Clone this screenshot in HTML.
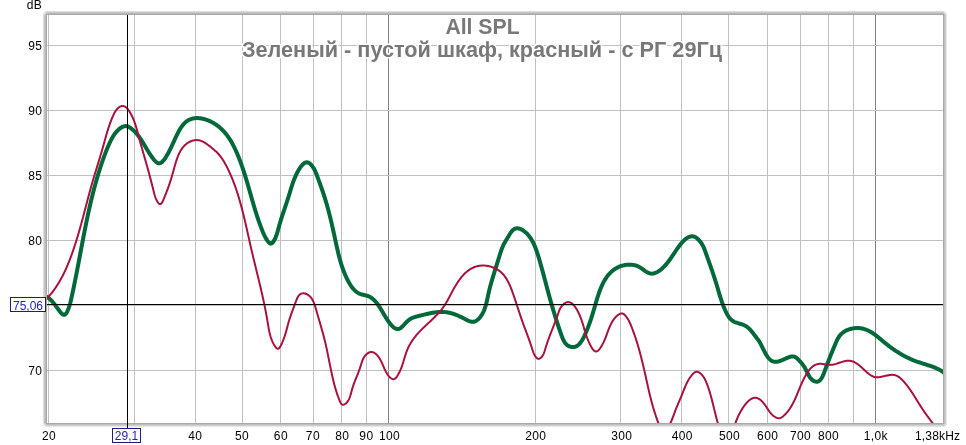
<!DOCTYPE html>
<html><head><meta charset="utf-8"><style>
html,body{margin:0;padding:0;background:#fff;}
body{width:966px;height:445px;overflow:hidden;}
svg{display:block;will-change:transform;font-family:"Liberation Sans", sans-serif;}
</style></head><body>
<svg width="966" height="445" viewBox="0 0 966 445">
<defs><clipPath id="pc"><rect x="47" y="15" width="896" height="408"/></clipPath></defs>
<rect x="48" y="15" width="1" height="408" fill="#c0c0c0"/>
<rect x="134" y="15" width="1" height="408" fill="#c0c0c0"/>
<rect x="195" y="15" width="1" height="408" fill="#c0c0c0"/>
<rect x="242" y="15" width="1" height="408" fill="#c0c0c0"/>
<rect x="280" y="15" width="1" height="408" fill="#c0c0c0"/>
<rect x="313" y="15" width="1" height="408" fill="#c0c0c0"/>
<rect x="341" y="15" width="1" height="408" fill="#c0c0c0"/>
<rect x="366" y="15" width="1" height="408" fill="#c0c0c0"/>
<rect x="388" y="15" width="1" height="408" fill="#808080"/>
<rect x="535" y="15" width="1" height="408" fill="#c0c0c0"/>
<rect x="620" y="15" width="1" height="408" fill="#c0c0c0"/>
<rect x="681" y="15" width="1" height="408" fill="#c0c0c0"/>
<rect x="728" y="15" width="1" height="408" fill="#c0c0c0"/>
<rect x="767" y="15" width="1" height="408" fill="#c0c0c0"/>
<rect x="800" y="15" width="1" height="408" fill="#c0c0c0"/>
<rect x="828" y="15" width="1" height="408" fill="#c0c0c0"/>
<rect x="853" y="15" width="1" height="408" fill="#c0c0c0"/>
<rect x="875" y="15" width="1" height="408" fill="#808080"/>
<rect x="47" y="45" width="896" height="1" fill="#c0c0c0"/>
<rect x="47" y="110" width="896" height="1" fill="#c0c0c0"/>
<rect x="47" y="175" width="896" height="1" fill="#c0c0c0"/>
<rect x="47" y="240" width="896" height="1" fill="#c0c0c0"/>
<rect x="47" y="305" width="896" height="1" fill="#c0c0c0"/>
<rect x="47" y="370" width="896" height="1" fill="#c0c0c0"/>
<g clip-path="url(#pc)">
<path d="M46.94,296.87 L47.54,297.28 L48.13,297.70 L48.69,298.13 L49.24,298.57 L49.77,299.03 L50.28,299.49 L50.78,299.97 L51.27,300.45 L51.75,300.95 L52.21,301.45 L52.67,301.97 L53.11,302.49 L53.55,303.02 L53.99,303.56 L54.42,304.11 L54.84,304.67 L55.27,305.23 L55.69,305.80 L56.12,306.38 L56.54,306.97 L56.97,307.56 L57.40,308.16 L57.84,308.77 L58.28,309.38 L58.73,310.00 L59.19,310.63 L59.66,311.25 L60.13,311.85 L60.60,312.43 L61.08,312.97 L61.57,313.46 L62.05,313.89 L62.53,314.25 L63.00,314.53 L63.47,314.72 L63.94,314.80 L64.40,314.76 L64.85,314.60 L65.28,314.31 L65.71,313.91 L66.12,313.40 L66.53,312.81 L66.91,312.14 L67.29,311.41 L67.64,310.64 L67.99,309.83 L68.31,309.01 L68.62,308.18 L68.90,307.37 L69.17,306.57 L69.42,305.81 L69.66,305.06 L69.87,304.33 L70.08,303.62 L70.27,302.92 L70.45,302.24 L70.62,301.57 L70.78,300.91 L70.94,300.26 L71.09,299.61 L71.24,298.96 L71.38,298.31 L71.52,297.67 L71.67,297.02 L71.81,296.36 L71.95,295.71 L72.09,295.05 L72.24,294.39 L72.38,293.73 L72.52,293.06 L72.66,292.39 L72.81,291.72 L72.95,291.05 L73.09,290.38 L73.23,289.70 L73.37,289.03 L73.52,288.35 L73.66,287.67 L73.80,286.99 L73.94,286.30 L74.08,285.62 L74.22,284.93 L74.36,284.25 L74.50,283.56 L74.64,282.87 L74.78,282.18 L74.92,281.49 L75.06,280.80 L75.20,280.11 L75.33,279.42 L75.47,278.73 L75.61,278.04 L75.75,277.34 L75.88,276.65 L76.02,275.96 L76.16,275.27 L76.29,274.57 L76.43,273.88 L76.56,273.19 L76.70,272.50 L76.83,271.81 L76.97,271.11 L77.10,270.42 L77.23,269.73 L77.37,269.04 L77.50,268.35 L77.63,267.66 L77.76,266.96 L77.90,266.27 L78.03,265.58 L78.16,264.89 L78.29,264.20 L78.42,263.51 L78.55,262.82 L78.68,262.13 L78.81,261.44 L78.94,260.75 L79.08,260.06 L79.21,259.37 L79.34,258.68 L79.47,257.99 L79.60,257.30 L79.73,256.61 L79.85,255.92 L79.98,255.23 L80.11,254.54 L80.24,253.85 L80.37,253.16 L80.50,252.47 L80.63,251.78 L80.76,251.09 L80.89,250.40 L81.02,249.71 L81.15,249.02 L81.28,248.34 L81.41,247.65 L81.54,246.96 L81.67,246.27 L81.80,245.58 L81.93,244.90 L82.06,244.21 L82.19,243.52 L82.32,242.83 L82.45,242.14 L82.58,241.46 L82.71,240.77 L82.84,240.08 L82.98,239.40 L83.11,238.71 L83.24,238.02 L83.37,237.34 L83.50,236.65 L83.64,235.96 L83.77,235.28 L83.90,234.59 L84.03,233.90 L84.17,233.22 L84.30,232.53 L84.44,231.85 L84.57,231.16 L84.71,230.48 L84.84,229.79 L84.98,229.11 L85.11,228.42 L85.25,227.74 L85.39,227.05 L85.52,226.37 L85.66,225.68 L85.80,225.00 L85.94,224.31 L86.08,223.63 L86.22,222.95 L86.36,222.26 L86.50,221.58 L86.64,220.89 L86.78,220.21 L86.92,219.53 L87.06,218.85 L87.21,218.16 L87.35,217.48 L87.50,216.80 L87.64,216.11 L87.79,215.43 L87.93,214.75 L88.08,214.07 L88.23,213.39 L88.37,212.70 L88.52,212.02 L88.67,211.34 L88.82,210.66 L88.97,209.98 L89.12,209.30 L89.28,208.62 L89.43,207.94 L89.58,207.26 L89.74,206.58 L89.89,205.90 L90.05,205.22 L90.20,204.54 L90.36,203.86 L90.52,203.18 L90.68,202.50 L90.84,201.82 L91.00,201.14 L91.16,200.46 L91.32,199.78 L91.49,199.10 L91.65,198.42 L91.81,197.75 L91.98,197.07 L92.15,196.39 L92.31,195.71 L92.48,195.03 L92.65,194.36 L92.82,193.68 L93.00,193.00 L93.17,192.33 L93.34,191.65 L93.52,190.97 L93.69,190.30 L93.87,189.62 L94.05,188.94 L94.22,188.27 L94.40,187.59 L94.58,186.92 L94.77,186.24 L94.95,185.57 L95.13,184.89 L95.32,184.22 L95.51,183.54 L95.69,182.87 L95.88,182.19 L96.07,181.52 L96.26,180.84 L96.45,180.17 L96.65,179.50 L96.84,178.82 L97.04,178.15 L97.23,177.48 L97.43,176.80 L97.63,176.13 L97.83,175.46 L98.04,174.79 L98.24,174.12 L98.44,173.44 L98.65,172.77 L98.86,172.10 L99.07,171.43 L99.28,170.76 L99.49,170.09 L99.70,169.42 L99.91,168.75 L100.13,168.08 L100.35,167.41 L100.56,166.74 L100.78,166.07 L101.01,165.40 L101.23,164.73 L101.45,164.06 L101.68,163.39 L101.90,162.72 L102.13,162.05 L102.36,161.38 L102.60,160.72 L102.83,160.05 L103.06,159.38 L103.30,158.72 L103.54,158.05 L103.78,157.39 L104.02,156.72 L104.26,156.06 L104.51,155.40 L104.76,154.74 L105.01,154.08 L105.26,153.42 L105.51,152.77 L105.77,152.11 L106.02,151.46 L106.28,150.80 L106.54,150.15 L106.81,149.51 L107.07,148.86 L107.34,148.21 L107.61,147.57 L107.88,146.93 L108.16,146.29 L108.43,145.65 L108.71,145.02 L109.00,144.38 L109.28,143.75 L109.57,143.12 L109.85,142.50 L110.15,141.87 L110.44,141.25 L110.74,140.64 L111.05,140.02 L111.36,139.41 L111.67,138.81 L112.00,138.20 L112.33,137.60 L112.67,137.01 L113.03,136.42 L113.39,135.84 L113.76,135.26 L114.15,134.69 L114.55,134.12 L114.97,133.56 L115.40,133.00 L115.84,132.45 L116.31,131.91 L116.79,131.38 L117.29,130.85 L117.80,130.33 L118.34,129.82 L118.90,129.32 L119.48,128.83 L120.07,128.37 L120.67,127.93 L121.29,127.52 L121.91,127.16 L122.55,126.84 L123.18,126.57 L123.83,126.36 L124.47,126.21 L125.11,126.12 L125.75,126.11 L126.39,126.17 L127.02,126.30 L127.64,126.48 L128.26,126.72 L128.87,127.01 L129.48,127.34 L130.08,127.70 L130.67,128.10 L131.25,128.52 L131.82,128.97 L132.37,129.43 L132.92,129.90 L133.46,130.38 L133.98,130.88 L134.50,131.39 L135.00,131.90 L135.50,132.42 L135.99,132.96 L136.46,133.50 L136.93,134.05 L137.39,134.60 L137.84,135.16 L138.28,135.73 L138.71,136.30 L139.14,136.88 L139.56,137.46 L139.97,138.04 L140.37,138.62 L140.77,139.21 L141.16,139.80 L141.54,140.39 L141.92,140.98 L142.29,141.57 L142.66,142.15 L143.02,142.74 L143.37,143.32 L143.72,143.91 L144.07,144.48 L144.41,145.06 L144.75,145.63 L145.09,146.21 L145.43,146.78 L145.76,147.35 L146.10,147.92 L146.44,148.49 L146.78,149.07 L147.13,149.64 L147.47,150.22 L147.83,150.80 L148.19,151.38 L148.55,151.97 L148.92,152.56 L149.30,153.16 L149.69,153.76 L150.09,154.37 L150.50,154.99 L150.92,155.61 L151.35,156.24 L151.80,156.88 L152.26,157.52 L152.73,158.17 L153.22,158.82 L153.71,159.45 L154.22,160.05 L154.73,160.63 L155.25,161.18 L155.77,161.68 L156.30,162.12 L156.83,162.51 L157.37,162.82 L157.90,163.06 L158.43,163.22 L158.96,163.28 L159.49,163.25 L160.02,163.14 L160.54,162.94 L161.05,162.67 L161.56,162.33 L162.07,161.93 L162.56,161.47 L163.05,160.96 L163.54,160.41 L164.01,159.82 L164.48,159.19 L164.94,158.54 L165.38,157.87 L165.82,157.19 L166.25,156.49 L166.66,155.80 L167.06,155.10 L167.45,154.42 L167.83,153.75 L168.19,153.09 L168.54,152.44 L168.89,151.79 L169.22,151.16 L169.54,150.54 L169.86,149.92 L170.17,149.31 L170.47,148.70 L170.76,148.10 L171.05,147.51 L171.33,146.92 L171.61,146.33 L171.88,145.74 L172.15,145.16 L172.42,144.58 L172.69,144.00 L172.95,143.41 L173.22,142.83 L173.48,142.25 L173.75,141.66 L174.02,141.08 L174.28,140.48 L174.56,139.89 L174.83,139.29 L175.11,138.68 L175.40,138.07 L175.69,137.45 L175.99,136.83 L176.29,136.19 L176.60,135.55 L176.92,134.90 L177.25,134.24 L177.59,133.57 L177.93,132.89 L178.29,132.22 L178.65,131.54 L179.02,130.86 L179.41,130.18 L179.80,129.51 L180.20,128.84 L180.62,128.18 L181.04,127.53 L181.47,126.89 L181.92,126.27 L182.37,125.65 L182.84,125.06 L183.31,124.48 L183.80,123.92 L184.30,123.39 L184.81,122.88 L185.33,122.39 L185.86,121.93 L186.41,121.50 L186.97,121.10 L187.53,120.72 L188.11,120.38 L188.70,120.06 L189.29,119.76 L189.90,119.49 L190.51,119.25 L191.14,119.03 L191.76,118.83 L192.40,118.66 L193.04,118.51 L193.69,118.39 L194.35,118.29 L195.01,118.21 L195.67,118.15 L196.34,118.11 L197.02,118.09 L197.69,118.10 L198.37,118.12 L199.06,118.17 L199.74,118.23 L200.43,118.31 L201.11,118.41 L201.80,118.53 L202.49,118.67 L203.18,118.82 L203.87,118.99 L204.55,119.17 L205.24,119.38 L205.92,119.59 L206.60,119.82 L207.28,120.07 L207.95,120.33 L208.62,120.60 L209.29,120.88 L209.95,121.18 L210.60,121.49 L211.25,121.81 L211.90,122.15 L212.53,122.49 L213.16,122.85 L213.79,123.21 L214.40,123.58 L215.01,123.97 L215.61,124.36 L216.19,124.76 L216.77,125.17 L217.34,125.58 L217.91,126.01 L218.46,126.44 L219.00,126.88 L219.54,127.32 L220.07,127.78 L220.59,128.24 L221.10,128.71 L221.61,129.18 L222.10,129.67 L222.59,130.16 L223.07,130.65 L223.55,131.16 L224.01,131.67 L224.47,132.18 L224.93,132.70 L225.37,133.23 L225.81,133.76 L226.24,134.30 L226.67,134.85 L227.09,135.40 L227.50,135.95 L227.90,136.51 L228.30,137.08 L228.70,137.65 L229.09,138.22 L229.47,138.80 L229.84,139.39 L230.22,139.97 L230.58,140.57 L230.94,141.16 L231.30,141.76 L231.65,142.37 L231.99,142.98 L232.33,143.59 L232.67,144.20 L233.00,144.82 L233.32,145.45 L233.64,146.07 L233.96,146.70 L234.28,147.33 L234.59,147.96 L234.89,148.60 L235.19,149.24 L235.49,149.88 L235.78,150.52 L236.07,151.16 L236.36,151.81 L236.65,152.46 L236.93,153.11 L237.21,153.76 L237.48,154.41 L237.75,155.06 L238.02,155.72 L238.29,156.37 L238.55,157.03 L238.82,157.69 L239.08,158.35 L239.33,159.01 L239.59,159.67 L239.84,160.33 L240.09,160.99 L240.34,161.65 L240.59,162.31 L240.83,162.97 L241.07,163.64 L241.31,164.30 L241.55,164.97 L241.79,165.63 L242.02,166.30 L242.25,166.96 L242.48,167.63 L242.71,168.30 L242.94,168.97 L243.16,169.63 L243.38,170.30 L243.61,170.97 L243.82,171.64 L244.04,172.31 L244.26,172.98 L244.47,173.65 L244.69,174.31 L244.90,174.98 L245.11,175.65 L245.32,176.32 L245.53,176.99 L245.73,177.66 L245.94,178.33 L246.14,179.00 L246.34,179.67 L246.55,180.34 L246.75,181.01 L246.94,181.68 L247.14,182.35 L247.34,183.01 L247.54,183.68 L247.73,184.35 L247.93,185.02 L248.12,185.68 L248.31,186.35 L248.50,187.02 L248.70,187.68 L248.89,188.35 L249.08,189.01 L249.27,189.68 L249.46,190.34 L249.64,191.01 L249.83,191.67 L250.02,192.34 L250.21,193.00 L250.40,193.66 L250.58,194.33 L250.77,194.99 L250.96,195.65 L251.15,196.32 L251.33,196.98 L251.52,197.64 L251.71,198.31 L251.90,198.97 L252.09,199.63 L252.28,200.30 L252.47,200.96 L252.66,201.62 L252.85,202.29 L253.04,202.95 L253.23,203.61 L253.43,204.28 L253.62,204.94 L253.82,205.60 L254.01,206.27 L254.21,206.93 L254.41,207.60 L254.61,208.26 L254.81,208.93 L255.01,209.60 L255.22,210.26 L255.42,210.93 L255.63,211.60 L255.84,212.26 L256.05,212.93 L256.26,213.60 L256.47,214.27 L256.69,214.94 L256.91,215.61 L257.13,216.28 L257.35,216.95 L257.57,217.63 L257.80,218.30 L258.02,218.97 L258.25,219.65 L258.48,220.32 L258.72,221.00 L258.96,221.67 L259.20,222.35 L259.44,223.03 L259.68,223.71 L259.93,224.39 L260.18,225.07 L260.43,225.75 L260.69,226.43 L260.95,227.11 L261.21,227.80 L261.47,228.48 L261.74,229.17 L262.01,229.86 L262.29,230.54 L262.56,231.23 L262.85,231.92 L263.13,232.60 L263.43,233.28 L263.73,233.96 L264.03,234.63 L264.35,235.30 L264.67,235.95 L264.99,236.60 L265.33,237.25 L265.68,237.88 L266.03,238.50 L266.40,239.11 L266.77,239.70 L267.16,240.29 L267.56,240.86 L267.97,241.41 L268.39,241.94 L268.83,242.46 L269.27,242.91 L269.73,243.29 L270.19,243.55 L270.65,243.67 L271.12,243.62 L271.58,243.43 L272.05,243.11 L272.50,242.69 L272.94,242.17 L273.37,241.58 L273.79,240.94 L274.19,240.26 L274.57,239.56 L274.92,238.86 L275.26,238.17 L275.57,237.47 L275.86,236.77 L276.14,236.08 L276.39,235.39 L276.64,234.69 L276.87,234.00 L277.09,233.31 L277.30,232.63 L277.50,231.94 L277.69,231.25 L277.88,230.57 L278.06,229.88 L278.24,229.20 L278.42,228.52 L278.60,227.83 L278.79,227.15 L278.97,226.47 L279.16,225.79 L279.35,225.11 L279.54,224.43 L279.74,223.76 L279.94,223.08 L280.14,222.40 L280.34,221.73 L280.55,221.05 L280.76,220.38 L280.96,219.70 L281.17,219.03 L281.39,218.35 L281.60,217.68 L281.82,217.01 L282.03,216.34 L282.25,215.67 L282.47,215.00 L282.69,214.33 L282.91,213.66 L283.14,212.99 L283.36,212.32 L283.58,211.66 L283.81,210.99 L284.03,210.32 L284.26,209.66 L284.48,208.99 L284.71,208.33 L284.93,207.66 L285.15,207.00 L285.38,206.33 L285.60,205.67 L285.83,205.01 L286.05,204.35 L286.27,203.68 L286.49,203.02 L286.71,202.36 L286.93,201.70 L287.15,201.04 L287.37,200.38 L287.59,199.72 L287.80,199.06 L288.01,198.40 L288.23,197.74 L288.44,197.08 L288.64,196.42 L288.85,195.76 L289.05,195.11 L289.25,194.45 L289.45,193.79 L289.65,193.13 L289.85,192.48 L290.05,191.82 L290.25,191.16 L290.44,190.51 L290.64,189.85 L290.84,189.19 L291.04,188.54 L291.24,187.88 L291.44,187.23 L291.65,186.57 L291.86,185.91 L292.07,185.26 L292.28,184.60 L292.50,183.95 L292.73,183.29 L292.95,182.63 L293.19,181.98 L293.42,181.32 L293.67,180.66 L293.92,180.01 L294.17,179.35 L294.43,178.69 L294.70,178.03 L294.98,177.38 L295.26,176.72 L295.56,176.06 L295.86,175.40 L296.17,174.74 L296.49,174.08 L296.81,173.42 L297.15,172.76 L297.50,172.10 L297.86,171.44 L298.23,170.78 L298.61,170.12 L299.01,169.46 L299.41,168.80 L299.83,168.14 L300.26,167.50 L300.70,166.87 L301.15,166.26 L301.61,165.68 L302.08,165.13 L302.56,164.61 L303.05,164.14 L303.55,163.71 L304.05,163.33 L304.57,163.00 L305.09,162.73 L305.62,162.53 L306.16,162.39 L306.70,162.33 L307.25,162.35 L307.81,162.46 L308.37,162.65 L308.94,162.93 L309.51,163.31 L310.08,163.78 L310.65,164.31 L311.20,164.90 L311.74,165.53 L312.25,166.18 L312.73,166.84 L313.18,167.49 L313.60,168.15 L313.99,168.80 L314.35,169.45 L314.69,170.09 L315.01,170.74 L315.31,171.38 L315.60,172.03 L315.87,172.67 L316.13,173.31 L316.37,173.96 L316.62,174.60 L316.86,175.24 L317.09,175.89 L317.33,176.53 L317.57,177.18 L317.80,177.82 L318.04,178.47 L318.28,179.12 L318.52,179.77 L318.76,180.42 L318.99,181.07 L319.23,181.72 L319.47,182.37 L319.71,183.02 L319.94,183.68 L320.18,184.33 L320.41,184.98 L320.65,185.64 L320.88,186.30 L321.12,186.95 L321.35,187.61 L321.58,188.27 L321.81,188.93 L322.04,189.59 L322.27,190.25 L322.50,190.91 L322.73,191.57 L322.95,192.23 L323.17,192.89 L323.40,193.56 L323.62,194.22 L323.84,194.89 L324.05,195.55 L324.27,196.22 L324.48,196.88 L324.69,197.55 L324.90,198.22 L325.11,198.89 L325.32,199.55 L325.52,200.22 L325.72,200.89 L325.92,201.56 L326.12,202.23 L326.32,202.90 L326.51,203.57 L326.71,204.25 L326.90,204.92 L327.09,205.59 L327.28,206.26 L327.47,206.94 L327.65,207.61 L327.84,208.29 L328.02,208.96 L328.20,209.64 L328.38,210.31 L328.56,210.99 L328.74,211.66 L328.92,212.34 L329.09,213.02 L329.27,213.70 L329.44,214.37 L329.61,215.05 L329.78,215.73 L329.95,216.41 L330.12,217.09 L330.28,217.77 L330.45,218.45 L330.62,219.13 L330.78,219.81 L330.94,220.49 L331.10,221.17 L331.27,221.85 L331.43,222.53 L331.59,223.22 L331.74,223.90 L331.90,224.58 L332.06,225.26 L332.22,225.95 L332.37,226.63 L332.53,227.31 L332.68,228.00 L332.84,228.68 L332.99,229.37 L333.14,230.05 L333.29,230.74 L333.45,231.42 L333.60,232.11 L333.75,232.79 L333.90,233.48 L334.05,234.16 L334.20,234.85 L334.35,235.53 L334.50,236.22 L334.65,236.91 L334.80,237.59 L334.95,238.28 L335.09,238.96 L335.24,239.65 L335.39,240.34 L335.54,241.02 L335.69,241.71 L335.84,242.40 L335.98,243.08 L336.13,243.77 L336.28,244.46 L336.43,245.14 L336.58,245.83 L336.73,246.52 L336.89,247.20 L337.04,247.89 L337.19,248.57 L337.35,249.26 L337.51,249.94 L337.67,250.63 L337.82,251.31 L337.99,251.99 L338.15,252.68 L338.31,253.36 L338.48,254.04 L338.65,254.72 L338.82,255.40 L338.99,256.08 L339.17,256.76 L339.34,257.44 L339.52,258.11 L339.71,258.79 L339.89,259.46 L340.08,260.14 L340.27,260.81 L340.46,261.49 L340.66,262.16 L340.86,262.83 L341.06,263.50 L341.27,264.16 L341.48,264.83 L341.69,265.50 L341.91,266.16 L342.13,266.82 L342.35,267.49 L342.58,268.15 L342.82,268.80 L343.05,269.46 L343.29,270.12 L343.54,270.77 L343.79,271.43 L344.04,272.08 L344.30,272.73 L344.57,273.37 L344.84,274.02 L345.11,274.67 L345.39,275.31 L345.67,275.95 L345.96,276.59 L346.26,277.23 L346.56,277.86 L346.86,278.49 L347.18,279.13 L347.49,279.76 L347.82,280.38 L348.15,281.01 L348.48,281.63 L348.82,282.25 L349.17,282.87 L349.53,283.49 L349.89,284.10 L350.26,284.70 L350.64,285.30 L351.03,285.88 L351.42,286.46 L351.83,287.03 L352.25,287.59 L352.68,288.14 L353.12,288.67 L353.57,289.19 L354.03,289.69 L354.51,290.17 L355.00,290.64 L355.51,291.09 L356.03,291.52 L356.56,291.93 L357.11,292.31 L357.68,292.67 L358.26,293.01 L358.86,293.33 L359.48,293.61 L360.11,293.87 L360.77,294.11 L361.43,294.32 L362.11,294.51 L362.80,294.69 L363.49,294.87 L364.19,295.04 L364.89,295.21 L365.59,295.38 L366.29,295.56 L366.98,295.76 L367.67,295.97 L368.34,296.21 L369.00,296.47 L369.65,296.76 L370.27,297.09 L370.88,297.45 L371.47,297.85 L372.04,298.27 L372.60,298.72 L373.14,299.19 L373.66,299.68 L374.17,300.18 L374.66,300.69 L375.14,301.22 L375.61,301.75 L376.06,302.28 L376.51,302.82 L376.94,303.37 L377.36,303.92 L377.77,304.47 L378.17,305.02 L378.57,305.58 L378.96,306.15 L379.34,306.72 L379.71,307.29 L380.08,307.86 L380.44,308.44 L380.80,309.02 L381.16,309.60 L381.51,310.19 L381.86,310.77 L382.21,311.37 L382.56,311.96 L382.90,312.55 L383.25,313.15 L383.60,313.75 L383.96,314.35 L384.31,314.95 L384.67,315.56 L385.03,316.16 L385.40,316.77 L385.77,317.37 L386.15,317.98 L386.53,318.59 L386.93,319.20 L387.33,319.81 L387.74,320.42 L388.16,321.03 L388.58,321.64 L389.02,322.25 L389.48,322.86 L389.94,323.47 L390.41,324.06 L390.89,324.65 L391.39,325.21 L391.89,325.76 L392.40,326.27 L392.92,326.76 L393.45,327.21 L393.98,327.62 L394.53,327.99 L395.08,328.30 L395.63,328.57 L396.19,328.78 L396.76,328.92 L397.33,329.00 L397.91,329.01 L398.49,328.94 L399.07,328.80 L399.66,328.57 L400.25,328.25 L400.84,327.85 L401.43,327.37 L402.02,326.83 L402.61,326.24 L403.20,325.63 L403.78,324.99 L404.36,324.35 L404.92,323.73 L405.48,323.13 L406.04,322.55 L406.58,322.00 L407.13,321.48 L407.67,320.99 L408.21,320.53 L408.75,320.09 L409.30,319.67 L409.85,319.29 L410.41,318.93 L410.98,318.60 L411.55,318.29 L412.15,318.01 L412.75,317.75 L413.37,317.51 L413.99,317.30 L414.63,317.09 L415.27,316.90 L415.92,316.72 L416.58,316.55 L417.25,316.38 L417.91,316.21 L418.58,316.05 L419.26,315.88 L419.93,315.70 L420.61,315.53 L421.30,315.36 L421.98,315.18 L422.67,315.01 L423.35,314.84 L424.05,314.66 L424.74,314.49 L425.43,314.32 L426.13,314.15 L426.82,313.99 L427.52,313.82 L428.22,313.67 L428.92,313.51 L429.62,313.36 L430.32,313.22 L431.02,313.08 L431.72,312.94 L432.42,312.81 L433.12,312.69 L433.82,312.58 L434.52,312.47 L435.22,312.37 L435.92,312.28 L436.62,312.20 L437.32,312.12 L438.02,312.06 L438.72,312.00 L439.41,311.96 L440.10,311.93 L440.80,311.91 L441.49,311.90 L442.17,311.90 L442.86,311.92 L443.54,311.95 L444.23,311.99 L444.90,312.05 L445.58,312.12 L446.26,312.20 L446.93,312.30 L447.60,312.41 L448.27,312.54 L448.93,312.67 L449.60,312.82 L450.26,312.98 L450.92,313.16 L451.59,313.34 L452.25,313.53 L452.91,313.74 L453.56,313.95 L454.22,314.18 L454.88,314.42 L455.54,314.66 L456.19,314.91 L456.85,315.18 L457.51,315.45 L458.16,315.73 L458.82,316.01 L459.48,316.31 L460.14,316.61 L460.80,316.92 L461.46,317.24 L462.12,317.56 L462.78,317.89 L463.45,318.22 L464.11,318.56 L464.78,318.91 L465.45,319.26 L466.12,319.61 L466.79,319.95 L467.45,320.28 L468.12,320.59 L468.79,320.88 L469.45,321.14 L470.10,321.37 L470.75,321.56 L471.40,321.70 L472.04,321.79 L472.67,321.82 L473.29,321.79 L473.90,321.70 L474.50,321.54 L475.09,321.33 L475.67,321.07 L476.24,320.75 L476.79,320.39 L477.33,319.99 L477.86,319.55 L478.38,319.08 L478.88,318.58 L479.36,318.05 L479.83,317.50 L480.28,316.92 L480.72,316.34 L481.14,315.74 L481.54,315.13 L481.92,314.52 L482.28,313.90 L482.63,313.28 L482.97,312.65 L483.28,312.01 L483.59,311.37 L483.88,310.73 L484.15,310.08 L484.41,309.42 L484.66,308.77 L484.90,308.10 L485.13,307.44 L485.35,306.77 L485.56,306.10 L485.76,305.43 L485.95,304.75 L486.14,304.07 L486.32,303.39 L486.49,302.71 L486.65,302.02 L486.81,301.33 L486.97,300.65 L487.12,299.96 L487.27,299.27 L487.42,298.58 L487.57,297.89 L487.71,297.20 L487.86,296.51 L488.00,295.82 L488.15,295.13 L488.29,294.44 L488.44,293.75 L488.60,293.07 L488.75,292.38 L488.91,291.70 L489.07,291.02 L489.23,290.34 L489.40,289.66 L489.57,288.98 L489.74,288.30 L489.91,287.63 L490.09,286.95 L490.27,286.28 L490.45,285.60 L490.63,284.93 L490.81,284.26 L491.00,283.58 L491.19,282.91 L491.38,282.24 L491.57,281.57 L491.76,280.91 L491.96,280.24 L492.15,279.57 L492.35,278.90 L492.55,278.23 L492.75,277.57 L492.95,276.90 L493.16,276.23 L493.36,275.56 L493.56,274.90 L493.77,274.23 L493.98,273.56 L494.18,272.90 L494.39,272.23 L494.60,271.56 L494.81,270.89 L495.02,270.23 L495.23,269.56 L495.44,268.89 L495.65,268.22 L495.86,267.55 L496.07,266.88 L496.28,266.21 L496.49,265.54 L496.70,264.86 L496.92,264.19 L497.13,263.52 L497.33,262.84 L497.54,262.17 L497.75,261.49 L497.96,260.81 L498.17,260.13 L498.38,259.45 L498.58,258.77 L498.79,258.09 L498.99,257.41 L499.20,256.73 L499.41,256.05 L499.61,255.37 L499.82,254.69 L500.04,254.02 L500.25,253.34 L500.47,252.67 L500.69,252.01 L500.91,251.34 L501.14,250.69 L501.37,250.03 L501.61,249.38 L501.85,248.74 L502.10,248.11 L502.35,247.48 L502.61,246.85 L502.87,246.24 L503.15,245.63 L503.43,245.03 L503.71,244.45 L504.01,243.87 L504.31,243.29 L504.63,242.73 L504.95,242.16 L505.28,241.60 L505.62,241.03 L505.97,240.45 L506.33,239.86 L506.70,239.26 L507.08,238.65 L507.46,238.01 L507.86,237.35 L508.27,236.67 L508.69,235.96 L509.12,235.23 L509.56,234.49 L510.01,233.75 L510.48,233.03 L510.96,232.33 L511.45,231.67 L511.95,231.05 L512.46,230.48 L512.99,229.98 L513.54,229.55 L514.09,229.19 L514.66,228.90 L515.23,228.67 L515.82,228.50 L516.41,228.40 L517.01,228.35 L517.62,228.35 L518.22,228.41 L518.83,228.51 L519.45,228.66 L520.06,228.86 L520.67,229.10 L521.28,229.37 L521.89,229.68 L522.49,230.03 L523.08,230.41 L523.67,230.81 L524.25,231.24 L524.82,231.70 L525.38,232.17 L525.93,232.66 L526.46,233.17 L526.98,233.69 L527.49,234.23 L527.97,234.77 L528.45,235.32 L528.91,235.88 L529.35,236.45 L529.78,237.02 L530.20,237.61 L530.60,238.20 L531.00,238.80 L531.38,239.40 L531.74,240.01 L532.10,240.63 L532.44,241.25 L532.78,241.88 L533.10,242.51 L533.42,243.14 L533.72,243.78 L534.02,244.42 L534.31,245.07 L534.59,245.72 L534.86,246.37 L535.13,247.02 L535.39,247.68 L535.64,248.33 L535.88,248.99 L536.12,249.64 L536.36,250.30 L536.59,250.96 L536.81,251.61 L537.04,252.26 L537.25,252.92 L537.47,253.57 L537.68,254.22 L537.89,254.87 L538.09,255.52 L538.30,256.17 L538.50,256.82 L538.70,257.47 L538.89,258.12 L539.09,258.77 L539.28,259.43 L539.47,260.08 L539.66,260.74 L539.85,261.39 L540.04,262.05 L540.23,262.71 L540.42,263.37 L540.61,264.04 L540.80,264.70 L540.99,265.37 L541.17,266.04 L541.36,266.71 L541.55,267.38 L541.73,268.06 L541.92,268.73 L542.10,269.41 L542.29,270.09 L542.47,270.76 L542.66,271.44 L542.84,272.12 L543.02,272.81 L543.21,273.49 L543.39,274.17 L543.58,274.85 L543.76,275.54 L543.94,276.22 L544.12,276.91 L544.31,277.59 L544.49,278.28 L544.67,278.97 L544.85,279.65 L545.04,280.34 L545.22,281.03 L545.40,281.71 L545.58,282.40 L545.76,283.09 L545.95,283.77 L546.13,284.46 L546.31,285.15 L546.49,285.83 L546.68,286.52 L546.86,287.20 L547.04,287.89 L547.22,288.57 L547.40,289.25 L547.59,289.93 L547.77,290.62 L547.95,291.30 L548.14,291.97 L548.32,292.65 L548.50,293.33 L548.69,294.01 L548.87,294.68 L549.05,295.35 L549.24,296.03 L549.42,296.70 L549.61,297.37 L549.79,298.03 L549.98,298.70 L550.17,299.37 L550.35,300.03 L550.54,300.69 L550.73,301.36 L550.91,302.02 L551.10,302.68 L551.29,303.34 L551.48,304.00 L551.67,304.66 L551.86,305.32 L552.05,305.97 L552.24,306.63 L552.44,307.29 L552.63,307.95 L552.83,308.60 L553.02,309.26 L553.22,309.92 L553.41,310.57 L553.61,311.23 L553.81,311.89 L554.01,312.54 L554.21,313.20 L554.41,313.86 L554.61,314.52 L554.82,315.18 L555.02,315.84 L555.23,316.50 L555.43,317.16 L555.64,317.82 L555.85,318.48 L556.06,319.14 L556.27,319.81 L556.49,320.47 L556.70,321.14 L556.92,321.81 L557.14,322.48 L557.35,323.15 L557.57,323.82 L557.80,324.49 L558.02,325.17 L558.24,325.84 L558.47,326.52 L558.70,327.20 L558.93,327.88 L559.16,328.56 L559.39,329.25 L559.62,329.94 L559.86,330.63 L560.10,331.32 L560.34,332.01 L560.58,332.71 L560.82,333.41 L561.06,334.11 L561.31,334.81 L561.56,335.52 L561.82,336.22 L562.08,336.92 L562.34,337.61 L562.62,338.30 L562.91,338.97 L563.21,339.64 L563.53,340.29 L563.86,340.92 L564.21,341.53 L564.57,342.13 L564.96,342.70 L565.36,343.25 L565.80,343.77 L566.25,344.26 L566.73,344.72 L567.24,345.14 L567.78,345.53 L568.35,345.89 L568.95,346.20 L569.58,346.47 L570.24,346.70 L570.92,346.88 L571.60,347.01 L572.29,347.09 L572.96,347.11 L573.61,347.08 L574.24,347.00 L574.85,346.86 L575.45,346.67 L576.03,346.44 L576.59,346.16 L577.13,345.84 L577.66,345.47 L578.18,345.07 L578.67,344.63 L579.16,344.16 L579.62,343.66 L580.08,343.13 L580.52,342.57 L580.95,341.99 L581.37,341.38 L581.77,340.76 L582.17,340.12 L582.55,339.46 L582.92,338.79 L583.29,338.10 L583.64,337.41 L583.99,336.71 L584.32,336.01 L584.65,335.31 L584.98,334.60 L585.29,333.90 L585.60,333.21 L585.90,332.51 L586.20,331.83 L586.49,331.14 L586.78,330.46 L587.06,329.78 L587.33,329.11 L587.60,328.43 L587.87,327.76 L588.13,327.10 L588.38,326.43 L588.63,325.77 L588.88,325.11 L589.12,324.46 L589.36,323.80 L589.59,323.15 L589.82,322.50 L590.05,321.85 L590.27,321.20 L590.49,320.55 L590.71,319.90 L590.92,319.26 L591.14,318.61 L591.34,317.97 L591.55,317.33 L591.76,316.68 L591.96,316.04 L592.16,315.40 L592.36,314.75 L592.55,314.11 L592.75,313.47 L592.95,312.82 L593.14,312.18 L593.33,311.53 L593.52,310.88 L593.72,310.24 L593.91,309.59 L594.10,308.94 L594.29,308.28 L594.48,307.63 L594.67,306.97 L594.86,306.31 L595.05,305.65 L595.25,304.99 L595.44,304.32 L595.64,303.66 L595.83,302.98 L596.03,302.31 L596.23,301.63 L596.43,300.96 L596.63,300.28 L596.84,299.60 L597.05,298.91 L597.26,298.23 L597.47,297.54 L597.69,296.86 L597.91,296.18 L598.13,295.49 L598.35,294.81 L598.58,294.12 L598.82,293.44 L599.05,292.76 L599.29,292.08 L599.54,291.40 L599.79,290.73 L600.04,290.06 L600.30,289.39 L600.57,288.72 L600.84,288.05 L601.11,287.39 L601.39,286.74 L601.68,286.08 L601.97,285.43 L602.27,284.79 L602.58,284.15 L602.89,283.52 L603.21,282.89 L603.53,282.27 L603.86,281.65 L604.20,281.04 L604.55,280.43 L604.91,279.84 L605.27,279.25 L605.64,278.66 L606.02,278.09 L606.40,277.52 L606.80,276.96 L607.20,276.41 L607.61,275.87 L608.04,275.34 L608.47,274.81 L608.91,274.30 L609.36,273.79 L609.82,273.30 L610.28,272.82 L610.76,272.34 L611.25,271.88 L611.75,271.43 L612.27,270.99 L612.79,270.56 L613.32,270.15 L613.86,269.74 L614.42,269.35 L614.99,268.97 L615.57,268.61 L616.16,268.26 L616.76,267.92 L617.37,267.60 L618.00,267.29 L618.64,266.99 L619.29,266.71 L619.95,266.45 L620.62,266.20 L621.30,265.97 L621.99,265.75 L622.69,265.56 L623.39,265.38 L624.09,265.21 L624.81,265.07 L625.52,264.95 L626.24,264.84 L626.97,264.76 L627.69,264.69 L628.42,264.65 L629.14,264.63 L629.87,264.63 L630.59,264.65 L631.32,264.70 L632.04,264.76 L632.75,264.86 L633.46,264.97 L634.17,265.11 L634.87,265.27 L635.57,265.46 L636.26,265.68 L636.94,265.92 L637.61,266.19 L638.27,266.49 L638.92,266.81 L639.56,267.16 L640.19,267.53 L640.81,267.93 L641.42,268.33 L642.03,268.75 L642.63,269.18 L643.23,269.61 L643.82,270.04 L644.41,270.46 L645.00,270.88 L645.59,271.28 L646.18,271.66 L646.77,272.02 L647.37,272.36 L647.97,272.67 L648.57,272.94 L649.18,273.17 L649.80,273.37 L650.43,273.51 L651.07,273.61 L651.71,273.65 L652.37,273.63 L653.04,273.56 L653.73,273.42 L654.42,273.22 L655.11,272.98 L655.80,272.70 L656.48,272.38 L657.16,272.03 L657.81,271.66 L658.45,271.27 L659.07,270.88 L659.66,270.48 L660.23,270.06 L660.78,269.65 L661.31,269.22 L661.83,268.78 L662.33,268.33 L662.82,267.88 L663.31,267.41 L663.79,266.93 L664.26,266.43 L664.73,265.93 L665.20,265.41 L665.66,264.89 L666.12,264.35 L666.58,263.81 L667.03,263.26 L667.48,262.71 L667.92,262.15 L668.36,261.59 L668.79,261.02 L669.21,260.45 L669.63,259.88 L670.05,259.31 L670.45,258.74 L670.85,258.17 L671.25,257.61 L671.63,257.05 L672.01,256.49 L672.39,255.94 L672.76,255.38 L673.13,254.83 L673.50,254.28 L673.86,253.73 L674.23,253.17 L674.60,252.62 L674.97,252.07 L675.34,251.51 L675.72,250.95 L676.10,250.38 L676.49,249.82 L676.88,249.24 L677.28,248.67 L677.70,248.08 L678.12,247.49 L678.55,246.89 L679.00,246.29 L679.45,245.69 L679.92,245.09 L680.39,244.49 L680.88,243.89 L681.37,243.30 L681.87,242.72 L682.38,242.15 L682.89,241.59 L683.42,241.05 L683.95,240.53 L684.49,240.03 L685.03,239.55 L685.58,239.09 L686.13,238.67 L686.69,238.26 L687.26,237.90 L687.82,237.56 L688.40,237.26 L688.97,237.00 L689.55,236.77 L690.14,236.59 L690.72,236.45 L691.31,236.36 L691.90,236.32 L692.49,236.33 L693.08,236.39 L693.67,236.51 L694.27,236.68 L694.86,236.92 L695.45,237.21 L696.04,237.57 L696.63,237.98 L697.21,238.43 L697.78,238.93 L698.34,239.47 L698.89,240.05 L699.43,240.65 L699.95,241.28 L700.45,241.92 L700.93,242.58 L701.39,243.25 L701.82,243.92 L702.23,244.59 L702.61,245.26 L702.96,245.91 L703.28,246.56 L703.58,247.20 L703.86,247.83 L704.12,248.45 L704.37,249.07 L704.61,249.69 L704.84,250.31 L705.06,250.93 L705.28,251.55 L705.51,252.17 L705.73,252.80 L705.96,253.43 L706.19,254.06 L706.41,254.69 L706.64,255.33 L706.87,255.96 L707.10,256.60 L707.33,257.25 L707.56,257.89 L707.80,258.54 L708.03,259.19 L708.26,259.84 L708.49,260.49 L708.73,261.14 L708.96,261.80 L709.19,262.46 L709.43,263.12 L709.66,263.78 L709.89,264.44 L710.13,265.10 L710.36,265.77 L710.59,266.43 L710.83,267.10 L711.06,267.77 L711.29,268.43 L711.52,269.10 L711.76,269.77 L711.99,270.45 L712.22,271.12 L712.44,271.79 L712.67,272.46 L712.90,273.14 L713.13,273.81 L713.35,274.48 L713.58,275.16 L713.80,275.83 L714.02,276.51 L714.25,277.18 L714.47,277.86 L714.68,278.53 L714.90,279.21 L715.12,279.88 L715.33,280.55 L715.54,281.23 L715.76,281.90 L715.96,282.57 L716.17,283.24 L716.38,283.92 L716.58,284.59 L716.78,285.26 L716.98,285.92 L717.18,286.59 L717.38,287.26 L717.58,287.93 L717.77,288.59 L717.97,289.26 L718.16,289.92 L718.36,290.58 L718.55,291.25 L718.75,291.91 L718.94,292.57 L719.14,293.23 L719.33,293.89 L719.53,294.56 L719.73,295.22 L719.93,295.88 L720.14,296.54 L720.34,297.19 L720.55,297.85 L720.76,298.51 L720.97,299.17 L721.19,299.83 L721.41,300.49 L721.63,301.15 L721.86,301.80 L722.09,302.46 L722.32,303.12 L722.56,303.78 L722.80,304.43 L723.05,305.09 L723.30,305.75 L723.56,306.41 L723.82,307.06 L724.09,307.72 L724.37,308.38 L724.65,309.04 L724.94,309.70 L725.23,310.36 L725.53,311.02 L725.84,311.68 L726.16,312.33 L726.48,312.99 L726.82,313.63 L727.16,314.27 L727.52,314.90 L727.88,315.52 L728.27,316.13 L728.66,316.72 L729.07,317.29 L729.50,317.85 L729.94,318.38 L730.40,318.89 L730.87,319.38 L731.37,319.84 L731.88,320.27 L732.42,320.67 L732.97,321.04 L733.55,321.38 L734.14,321.69 L734.75,321.98 L735.38,322.25 L736.02,322.50 L736.67,322.73 L737.33,322.95 L737.99,323.17 L738.67,323.37 L739.34,323.58 L740.02,323.78 L740.70,323.99 L741.38,324.21 L742.05,324.44 L742.72,324.68 L743.39,324.93 L744.04,325.21 L744.69,325.51 L745.32,325.83 L745.94,326.18 L746.54,326.56 L747.13,326.98 L747.70,327.42 L748.26,327.88 L748.81,328.37 L749.34,328.88 L749.85,329.40 L750.36,329.94 L750.85,330.49 L751.33,331.04 L751.80,331.61 L752.26,332.17 L752.70,332.74 L753.14,333.31 L753.57,333.87 L753.99,334.42 L754.40,334.96 L754.80,335.49 L755.19,336.00 L755.58,336.50 L755.96,336.99 L756.33,337.47 L756.70,337.95 L757.06,338.42 L757.42,338.89 L757.78,339.37 L758.13,339.86 L758.48,340.36 L758.83,340.88 L759.17,341.42 L759.52,341.98 L759.86,342.56 L760.21,343.17 L760.56,343.81 L760.91,344.47 L761.26,345.15 L761.61,345.85 L761.97,346.56 L762.33,347.28 L762.69,348.01 L763.06,348.75 L763.43,349.49 L763.80,350.23 L764.18,350.98 L764.57,351.71 L764.96,352.45 L765.36,353.17 L765.77,353.88 L766.18,354.58 L766.61,355.26 L767.04,355.93 L767.48,356.57 L767.92,357.18 L768.38,357.77 L768.85,358.33 L769.33,358.86 L769.82,359.35 L770.32,359.81 L770.83,360.23 L771.36,360.60 L771.89,360.93 L772.45,361.21 L773.01,361.44 L773.59,361.62 L774.18,361.74 L774.78,361.82 L775.40,361.85 L776.03,361.83 L776.66,361.78 L777.31,361.68 L777.96,361.55 L778.62,361.40 L779.29,361.21 L779.96,360.99 L780.63,360.76 L781.30,360.50 L781.98,360.23 L782.66,359.95 L783.33,359.65 L784.00,359.35 L784.68,359.04 L785.34,358.74 L786.00,358.43 L786.66,358.13 L787.31,357.84 L787.95,357.56 L788.59,357.30 L789.22,357.07 L789.85,356.86 L790.47,356.69 L791.09,356.56 L791.71,356.47 L792.32,356.43 L792.93,356.45 L793.54,356.52 L794.15,356.67 L794.75,356.88 L795.36,357.16 L795.96,357.53 L796.57,357.98 L797.17,358.48 L797.76,359.03 L798.34,359.61 L798.90,360.20 L799.45,360.79 L799.97,361.37 L800.48,361.93 L800.97,362.48 L801.44,363.02 L801.89,363.56 L802.32,364.09 L802.74,364.63 L803.14,365.17 L803.53,365.71 L803.91,366.26 L804.28,366.82 L804.63,367.40 L804.98,368.00 L805.31,368.61 L805.64,369.24 L805.96,369.88 L806.28,370.53 L806.60,371.20 L806.92,371.86 L807.24,372.53 L807.57,373.20 L807.90,373.87 L808.24,374.53 L808.59,375.18 L808.96,375.81 L809.33,376.43 L809.73,377.04 L810.14,377.62 L810.57,378.18 L811.03,378.71 L811.51,379.22 L812.02,379.69 L812.55,380.12 L813.12,380.52 L813.71,380.87 L814.33,381.18 L814.97,381.43 L815.60,381.61 L816.23,381.72 L816.84,381.74 L817.43,381.68 L817.99,381.53 L818.53,381.30 L819.04,381.00 L819.54,380.63 L820.01,380.20 L820.46,379.72 L820.89,379.18 L821.30,378.59 L821.70,377.97 L822.07,377.31 L822.44,376.62 L822.78,375.90 L823.12,375.17 L823.44,374.42 L823.75,373.66 L824.04,372.90 L824.33,372.14 L824.61,371.39 L824.88,370.65 L825.14,369.93 L825.40,369.23 L825.65,368.54 L825.89,367.87 L826.13,367.21 L826.37,366.57 L826.61,365.93 L826.84,365.30 L827.07,364.68 L827.30,364.05 L827.53,363.44 L827.77,362.82 L828.00,362.20 L828.24,361.57 L828.48,360.95 L828.72,360.32 L828.96,359.68 L829.21,359.05 L829.46,358.41 L829.71,357.77 L829.97,357.12 L830.22,356.48 L830.48,355.83 L830.74,355.18 L831.00,354.53 L831.27,353.87 L831.53,353.22 L831.80,352.56 L832.07,351.90 L832.33,351.25 L832.61,350.59 L832.88,349.93 L833.15,349.27 L833.43,348.61 L833.70,347.95 L833.98,347.29 L834.25,346.62 L834.53,345.96 L834.81,345.30 L835.09,344.64 L835.37,343.99 L835.65,343.33 L835.93,342.67 L836.22,342.02 L836.51,341.37 L836.80,340.72 L837.10,340.09 L837.41,339.46 L837.73,338.84 L838.07,338.23 L838.41,337.63 L838.78,337.04 L839.16,336.47 L839.56,335.92 L839.98,335.38 L840.42,334.87 L840.88,334.37 L841.36,333.89 L841.86,333.43 L842.38,332.98 L842.92,332.56 L843.48,332.15 L844.05,331.77 L844.64,331.40 L845.24,331.05 L845.85,330.72 L846.48,330.41 L847.12,330.12 L847.77,329.85 L848.43,329.60 L849.09,329.36 L849.77,329.15 L850.46,328.95 L851.15,328.78 L851.84,328.62 L852.54,328.48 L853.25,328.36 L853.96,328.26 L854.67,328.18 L855.38,328.12 L856.09,328.08 L856.80,328.06 L857.51,328.05 L858.22,328.07 L858.93,328.11 L859.63,328.16 L860.32,328.23 L861.01,328.33 L861.70,328.44 L862.38,328.57 L863.04,328.72 L863.71,328.89 L864.36,329.08 L865.01,329.29 L865.65,329.51 L866.28,329.75 L866.91,330.00 L867.53,330.27 L868.15,330.56 L868.76,330.86 L869.36,331.17 L869.96,331.49 L870.56,331.83 L871.15,332.18 L871.74,332.54 L872.32,332.91 L872.90,333.29 L873.47,333.68 L874.04,334.07 L874.61,334.48 L875.17,334.89 L875.73,335.31 L876.29,335.74 L876.85,336.17 L877.41,336.61 L877.96,337.06 L878.51,337.50 L879.06,337.95 L879.61,338.41 L880.16,338.86 L880.70,339.32 L881.25,339.78 L881.80,340.24 L882.34,340.70 L882.89,341.16 L883.44,341.62 L883.99,342.07 L884.53,342.53 L885.08,342.98 L885.64,343.43 L886.19,343.87 L886.74,344.32 L887.30,344.76 L887.86,345.19 L888.41,345.62 L888.97,346.05 L889.54,346.48 L890.10,346.90 L890.66,347.32 L891.23,347.73 L891.80,348.15 L892.37,348.55 L892.94,348.96 L893.51,349.36 L894.09,349.76 L894.66,350.15 L895.24,350.54 L895.82,350.93 L896.41,351.31 L896.99,351.69 L897.58,352.06 L898.16,352.43 L898.76,352.80 L899.35,353.16 L899.94,353.52 L900.54,353.88 L901.14,354.23 L901.74,354.58 L902.34,354.92 L902.95,355.26 L903.55,355.59 L904.16,355.92 L904.78,356.25 L905.39,356.57 L906.01,356.88 L906.63,357.20 L907.25,357.51 L907.87,357.81 L908.50,358.11 L909.13,358.40 L909.76,358.69 L910.39,358.98 L911.03,359.26 L911.67,359.54 L912.31,359.81 L912.96,360.07 L913.61,360.34 L914.26,360.59 L914.91,360.85 L915.57,361.09 L916.22,361.34 L916.89,361.57 L917.55,361.81 L918.22,362.04 L918.89,362.26 L919.56,362.48 L920.23,362.70 L920.90,362.92 L921.58,363.14 L922.25,363.35 L922.93,363.56 L923.61,363.78 L924.28,363.99 L924.96,364.20 L925.64,364.41 L926.31,364.63 L926.99,364.84 L927.66,365.06 L928.34,365.28 L929.01,365.50 L929.68,365.72 L930.35,365.95 L931.01,366.18 L931.68,366.42 L932.34,366.66 L933.00,366.90 L933.65,367.16 L934.30,367.41 L934.95,367.68 L935.59,367.95 L936.23,368.22 L936.87,368.51 L937.50,368.80 L938.12,369.10 L938.74,369.41 L939.36,369.73 L939.97,370.06 L940.57,370.40 L941.17,370.75 L941.76,371.11 L942.35,371.48 L942.93,371.87 L943.50,372.26" fill="none" stroke="#00693a" stroke-width="4" stroke-linejoin="round" stroke-linecap="round"/>
<path d="M46.74,298.71 L47.24,298.18 L47.72,297.66 L48.20,297.12 L48.68,296.59 L49.15,296.05 L49.61,295.51 L50.07,294.96 L50.53,294.42 L50.98,293.87 L51.42,293.31 L51.86,292.76 L52.30,292.20 L52.73,291.64 L53.15,291.08 L53.57,290.51 L53.99,289.94 L54.40,289.37 L54.80,288.80 L55.21,288.22 L55.60,287.65 L56.00,287.07 L56.39,286.48 L56.77,285.90 L57.15,285.31 L57.53,284.72 L57.90,284.13 L58.27,283.53 L58.63,282.94 L58.99,282.34 L59.35,281.74 L59.70,281.14 L60.05,280.53 L60.40,279.93 L60.74,279.32 L61.07,278.71 L61.41,278.10 L61.74,277.48 L62.07,276.87 L62.39,276.25 L62.71,275.63 L63.03,275.01 L63.34,274.39 L63.65,273.76 L63.96,273.14 L64.26,272.51 L64.56,271.88 L64.86,271.25 L65.16,270.62 L65.45,269.99 L65.74,269.35 L66.02,268.72 L66.31,268.08 L66.59,267.44 L66.87,266.80 L67.14,266.16 L67.42,265.52 L67.69,264.88 L67.95,264.24 L68.22,263.59 L68.48,262.94 L68.75,262.30 L69.01,261.65 L69.26,261.00 L69.52,260.35 L69.77,259.70 L70.02,259.05 L70.27,258.40 L70.52,257.74 L70.76,257.09 L71.01,256.43 L71.25,255.78 L71.49,255.12 L71.73,254.47 L71.96,253.81 L72.20,253.15 L72.43,252.49 L72.66,251.84 L72.89,251.18 L73.12,250.52 L73.35,249.86 L73.58,249.19 L73.80,248.53 L74.02,247.87 L74.24,247.21 L74.46,246.54 L74.68,245.88 L74.90,245.22 L75.11,244.55 L75.33,243.89 L75.54,243.22 L75.75,242.55 L75.96,241.89 L76.17,241.22 L76.38,240.55 L76.59,239.88 L76.79,239.21 L77.00,238.54 L77.20,237.88 L77.40,237.21 L77.61,236.53 L77.81,235.86 L78.01,235.19 L78.20,234.52 L78.40,233.85 L78.60,233.18 L78.79,232.51 L78.99,231.83 L79.18,231.16 L79.37,230.49 L79.57,229.81 L79.76,229.14 L79.95,228.46 L80.14,227.79 L80.33,227.11 L80.51,226.44 L80.70,225.76 L80.89,225.09 L81.08,224.41 L81.26,223.73 L81.45,223.06 L81.63,222.38 L81.81,221.70 L82.00,221.03 L82.18,220.35 L82.36,219.67 L82.55,219.00 L82.73,218.32 L82.91,217.64 L83.09,216.96 L83.27,216.28 L83.45,215.61 L83.63,214.93 L83.81,214.25 L83.99,213.57 L84.17,212.89 L84.35,212.21 L84.52,211.53 L84.70,210.86 L84.88,210.18 L85.06,209.50 L85.24,208.82 L85.41,208.14 L85.59,207.46 L85.77,206.78 L85.95,206.10 L86.13,205.43 L86.30,204.75 L86.48,204.07 L86.66,203.39 L86.84,202.71 L87.02,202.03 L87.20,201.35 L87.37,200.67 L87.55,200.00 L87.73,199.32 L87.91,198.64 L88.09,197.96 L88.27,197.28 L88.45,196.61 L88.63,195.93 L88.81,195.25 L88.99,194.57 L89.18,193.90 L89.36,193.22 L89.54,192.54 L89.72,191.87 L89.91,191.19 L90.09,190.51 L90.28,189.84 L90.46,189.16 L90.65,188.49 L90.83,187.81 L91.02,187.13 L91.21,186.46 L91.40,185.79 L91.59,185.11 L91.78,184.44 L91.97,183.76 L92.16,183.09 L92.35,182.42 L92.55,181.75 L92.74,181.07 L92.94,180.40 L93.13,179.73 L93.33,179.06 L93.53,178.39 L93.73,177.72 L93.93,177.05 L94.13,176.38 L94.33,175.71 L94.53,175.04 L94.73,174.37 L94.93,173.70 L95.14,173.03 L95.34,172.36 L95.54,171.70 L95.75,171.03 L95.95,170.36 L96.16,169.69 L96.36,169.02 L96.57,168.36 L96.78,167.69 L96.98,167.02 L97.19,166.35 L97.40,165.69 L97.60,165.02 L97.81,164.35 L98.01,163.68 L98.22,163.01 L98.43,162.35 L98.63,161.68 L98.84,161.01 L99.04,160.34 L99.25,159.67 L99.45,159.01 L99.66,158.34 L99.86,157.67 L100.06,157.00 L100.26,156.33 L100.47,155.66 L100.67,154.99 L100.87,154.32 L101.07,153.65 L101.27,152.98 L101.47,152.31 L101.66,151.63 L101.86,150.96 L102.05,150.29 L102.25,149.62 L102.44,148.94 L102.64,148.27 L102.83,147.60 L103.02,146.92 L103.21,146.25 L103.39,145.57 L103.58,144.89 L103.77,144.22 L103.96,143.54 L104.14,142.87 L104.33,142.19 L104.52,141.51 L104.70,140.84 L104.89,140.16 L105.08,139.48 L105.27,138.81 L105.45,138.13 L105.64,137.46 L105.83,136.78 L106.02,136.11 L106.22,135.43 L106.41,134.76 L106.60,134.09 L106.80,133.41 L107.00,132.74 L107.20,132.07 L107.40,131.40 L107.60,130.73 L107.81,130.06 L108.02,129.39 L108.23,128.73 L108.44,128.06 L108.66,127.40 L108.88,126.73 L109.10,126.07 L109.32,125.41 L109.55,124.75 L109.78,124.09 L110.01,123.43 L110.25,122.78 L110.49,122.12 L110.74,121.47 L110.99,120.82 L111.24,120.17 L111.50,119.52 L111.76,118.88 L112.02,118.24 L112.30,117.59 L112.57,116.95 L112.85,116.31 L113.14,115.68 L113.43,115.04 L113.72,114.41 L114.02,113.78 L114.34,113.16 L114.66,112.54 L115.01,111.93 L115.37,111.33 L115.76,110.74 L116.18,110.17 L116.63,109.60 L117.11,109.06 L117.63,108.53 L118.20,108.02 L118.80,107.53 L119.44,107.07 L120.09,106.68 L120.75,106.36 L121.39,106.14 L122.01,106.01 L122.62,105.97 L123.21,106.01 L123.78,106.14 L124.34,106.33 L124.88,106.59 L125.41,106.91 L125.92,107.29 L126.42,107.72 L126.90,108.19 L127.37,108.70 L127.82,109.24 L128.26,109.81 L128.69,110.40 L129.10,111.01 L129.50,111.63 L129.89,112.25 L130.27,112.88 L130.63,113.51 L130.99,114.14 L131.33,114.78 L131.66,115.42 L131.98,116.06 L132.29,116.70 L132.59,117.34 L132.88,117.99 L133.17,118.64 L133.44,119.29 L133.71,119.94 L133.97,120.60 L134.22,121.25 L134.46,121.91 L134.70,122.57 L134.93,123.23 L135.15,123.90 L135.37,124.56 L135.58,125.23 L135.79,125.89 L136.00,126.56 L136.20,127.23 L136.39,127.90 L136.59,128.57 L136.78,129.24 L136.96,129.91 L137.15,130.59 L137.33,131.26 L137.51,131.93 L137.69,132.61 L137.87,133.28 L138.04,133.96 L138.22,134.63 L138.40,135.31 L138.58,135.98 L138.76,136.65 L138.94,137.33 L139.12,138.00 L139.30,138.68 L139.48,139.35 L139.67,140.02 L139.85,140.70 L140.04,141.37 L140.22,142.04 L140.41,142.72 L140.60,143.39 L140.78,144.06 L140.97,144.74 L141.16,145.41 L141.35,146.08 L141.54,146.75 L141.73,147.43 L141.92,148.10 L142.11,148.77 L142.31,149.45 L142.50,150.12 L142.69,150.79 L142.88,151.46 L143.08,152.14 L143.27,152.81 L143.46,153.48 L143.66,154.16 L143.85,154.83 L144.04,155.50 L144.23,156.18 L144.43,156.85 L144.62,157.52 L144.81,158.20 L145.01,158.87 L145.20,159.55 L145.39,160.22 L145.58,160.90 L145.78,161.57 L145.97,162.25 L146.16,162.92 L146.35,163.60 L146.54,164.27 L146.73,164.95 L146.92,165.63 L147.11,166.30 L147.30,166.98 L147.49,167.66 L147.67,168.33 L147.86,169.01 L148.05,169.69 L148.23,170.37 L148.42,171.05 L148.60,171.73 L148.78,172.41 L148.97,173.09 L149.15,173.76 L149.33,174.44 L149.51,175.12 L149.69,175.80 L149.87,176.48 L150.05,177.16 L150.23,177.84 L150.40,178.52 L150.58,179.20 L150.76,179.88 L150.93,180.55 L151.11,181.23 L151.28,181.91 L151.45,182.58 L151.63,183.26 L151.80,183.93 L151.97,184.60 L152.15,185.28 L152.32,185.95 L152.49,186.62 L152.66,187.29 L152.83,187.96 L153.00,188.62 L153.17,189.29 L153.34,189.95 L153.51,190.62 L153.67,191.28 L153.84,191.94 L154.01,192.60 L154.18,193.26 L154.36,193.92 L154.54,194.58 L154.74,195.25 L154.95,195.93 L155.17,196.62 L155.42,197.31 L155.69,198.02 L155.99,198.74 L156.32,199.47 L156.67,200.22 L157.05,200.95 L157.45,201.65 L157.87,202.30 L158.29,202.88 L158.72,203.37 L159.15,203.76 L159.58,204.02 L160.01,204.14 L160.42,204.11 L160.82,203.93 L161.21,203.63 L161.59,203.21 L161.96,202.70 L162.32,202.11 L162.67,201.45 L163.02,200.74 L163.36,199.99 L163.68,199.22 L164.01,198.44 L164.32,197.67 L164.63,196.91 L164.93,196.16 L165.23,195.42 L165.52,194.69 L165.80,193.97 L166.08,193.25 L166.35,192.55 L166.62,191.85 L166.88,191.16 L167.14,190.47 L167.39,189.79 L167.63,189.12 L167.88,188.45 L168.12,187.79 L168.35,187.13 L168.58,186.48 L168.81,185.83 L169.03,185.19 L169.25,184.55 L169.46,183.91 L169.67,183.27 L169.88,182.64 L170.09,182.01 L170.29,181.38 L170.50,180.75 L170.70,180.12 L170.89,179.49 L171.09,178.86 L171.28,178.23 L171.47,177.60 L171.66,176.97 L171.85,176.34 L172.04,175.70 L172.23,175.06 L172.41,174.42 L172.60,173.78 L172.78,173.13 L172.97,172.48 L173.15,171.83 L173.34,171.16 L173.52,170.50 L173.71,169.83 L173.90,169.15 L174.08,168.47 L174.27,167.78 L174.46,167.09 L174.65,166.40 L174.85,165.70 L175.05,165.00 L175.25,164.30 L175.46,163.59 L175.66,162.89 L175.88,162.19 L176.10,161.48 L176.32,160.78 L176.55,160.08 L176.79,159.39 L177.03,158.69 L177.28,158.00 L177.54,157.31 L177.80,156.63 L178.07,155.95 L178.35,155.28 L178.64,154.61 L178.94,153.95 L179.25,153.30 L179.57,152.66 L179.89,152.03 L180.23,151.40 L180.58,150.78 L180.94,150.18 L181.32,149.59 L181.70,149.00 L182.10,148.43 L182.51,147.88 L182.94,147.33 L183.38,146.80 L183.83,146.29 L184.30,145.78 L184.78,145.30 L185.28,144.83 L185.79,144.38 L186.32,143.94 L186.86,143.53 L187.42,143.13 L187.99,142.75 L188.58,142.40 L189.18,142.06 L189.78,141.75 L190.40,141.46 L191.03,141.20 L191.67,140.96 L192.31,140.75 L192.96,140.57 L193.62,140.42 L194.28,140.29 L194.95,140.20 L195.62,140.14 L196.29,140.11 L196.96,140.11 L197.64,140.14 L198.32,140.21 L198.99,140.32 L199.66,140.47 L200.33,140.65 L201.00,140.87 L201.67,141.12 L202.33,141.40 L202.99,141.71 L203.64,142.05 L204.29,142.42 L204.93,142.80 L205.57,143.21 L206.20,143.63 L206.83,144.06 L207.45,144.51 L208.06,144.96 L208.67,145.43 L209.27,145.89 L209.87,146.36 L210.45,146.83 L211.03,147.29 L211.60,147.75 L212.16,148.20 L212.71,148.65 L213.25,149.09 L213.79,149.54 L214.31,149.98 L214.83,150.43 L215.34,150.88 L215.84,151.34 L216.33,151.80 L216.82,152.26 L217.29,152.74 L217.76,153.23 L218.22,153.72 L218.67,154.23 L219.11,154.74 L219.55,155.26 L219.97,155.79 L220.39,156.33 L220.81,156.88 L221.21,157.43 L221.61,157.99 L222.01,158.55 L222.39,159.13 L222.77,159.71 L223.15,160.29 L223.52,160.88 L223.88,161.47 L224.24,162.07 L224.59,162.68 L224.94,163.29 L225.28,163.90 L225.62,164.52 L225.95,165.14 L226.28,165.76 L226.60,166.38 L226.92,167.01 L227.24,167.64 L227.55,168.28 L227.86,168.91 L228.17,169.54 L228.47,170.18 L228.77,170.82 L229.07,171.46 L229.37,172.10 L229.66,172.74 L229.94,173.38 L230.23,174.02 L230.51,174.66 L230.79,175.30 L231.07,175.95 L231.34,176.60 L231.62,177.24 L231.88,177.89 L232.15,178.54 L232.41,179.19 L232.68,179.84 L232.93,180.49 L233.19,181.14 L233.44,181.79 L233.69,182.44 L233.94,183.10 L234.19,183.75 L234.43,184.41 L234.67,185.07 L234.91,185.72 L235.15,186.38 L235.38,187.04 L235.61,187.70 L235.84,188.36 L236.07,189.02 L236.30,189.68 L236.52,190.34 L236.74,191.01 L236.96,191.67 L237.18,192.33 L237.39,193.00 L237.61,193.66 L237.82,194.33 L238.03,195.00 L238.24,195.66 L238.44,196.33 L238.64,197.00 L238.85,197.67 L239.05,198.34 L239.25,199.01 L239.44,199.68 L239.64,200.35 L239.83,201.02 L240.02,201.69 L240.22,202.36 L240.40,203.04 L240.59,203.71 L240.78,204.39 L240.96,205.06 L241.15,205.73 L241.33,206.41 L241.51,207.09 L241.69,207.76 L241.87,208.44 L242.04,209.12 L242.22,209.79 L242.39,210.47 L242.57,211.15 L242.74,211.83 L242.91,212.51 L243.08,213.19 L243.25,213.86 L243.42,214.54 L243.58,215.22 L243.75,215.90 L243.91,216.59 L244.08,217.27 L244.24,217.95 L244.40,218.63 L244.57,219.31 L244.73,219.99 L244.89,220.67 L245.05,221.36 L245.21,222.04 L245.37,222.72 L245.52,223.40 L245.68,224.09 L245.84,224.77 L245.99,225.45 L246.15,226.14 L246.30,226.82 L246.46,227.50 L246.61,228.19 L246.77,228.87 L246.92,229.56 L247.07,230.24 L247.23,230.92 L247.38,231.61 L247.53,232.29 L247.69,232.98 L247.84,233.66 L247.99,234.35 L248.14,235.03 L248.30,235.71 L248.45,236.40 L248.60,237.08 L248.75,237.77 L248.91,238.45 L249.06,239.13 L249.21,239.82 L249.36,240.50 L249.52,241.19 L249.67,241.87 L249.82,242.55 L249.98,243.24 L250.13,243.92 L250.29,244.60 L250.44,245.29 L250.60,245.97 L250.75,246.65 L250.91,247.33 L251.07,248.02 L251.23,248.70 L251.38,249.38 L251.54,250.06 L251.70,250.74 L251.86,251.42 L252.02,252.11 L252.18,252.79 L252.34,253.47 L252.50,254.15 L252.66,254.83 L252.83,255.51 L252.99,256.19 L253.15,256.87 L253.31,257.55 L253.48,258.23 L253.64,258.91 L253.81,259.59 L253.97,260.27 L254.13,260.95 L254.30,261.63 L254.46,262.31 L254.63,262.99 L254.79,263.66 L254.96,264.34 L255.12,265.02 L255.29,265.70 L255.45,266.38 L255.62,267.06 L255.79,267.74 L255.95,268.42 L256.12,269.10 L256.28,269.78 L256.45,270.45 L256.61,271.13 L256.78,271.81 L256.95,272.49 L257.11,273.17 L257.28,273.85 L257.44,274.53 L257.61,275.21 L257.77,275.89 L257.94,276.56 L258.10,277.24 L258.27,277.92 L258.43,278.60 L258.60,279.28 L258.76,279.96 L258.92,280.64 L259.09,281.32 L259.25,282.00 L259.41,282.68 L259.57,283.36 L259.74,284.04 L259.90,284.72 L260.06,285.40 L260.22,286.08 L260.38,286.76 L260.54,287.44 L260.70,288.12 L260.86,288.80 L261.02,289.48 L261.18,290.17 L261.33,290.85 L261.49,291.53 L261.65,292.21 L261.80,292.89 L261.96,293.58 L262.11,294.26 L262.27,294.94 L262.42,295.62 L262.57,296.31 L262.72,296.99 L262.88,297.67 L263.03,298.36 L263.18,299.04 L263.33,299.73 L263.47,300.41 L263.62,301.10 L263.77,301.78 L263.91,302.47 L264.06,303.15 L264.20,303.84 L264.35,304.53 L264.49,305.21 L264.63,305.90 L264.77,306.59 L264.91,307.27 L265.05,307.96 L265.19,308.65 L265.32,309.34 L265.46,310.03 L265.59,310.72 L265.73,311.41 L265.86,312.10 L265.99,312.79 L266.12,313.48 L266.25,314.17 L266.38,314.86 L266.51,315.56 L266.63,316.25 L266.76,316.94 L266.88,317.64 L267.00,318.33 L267.12,319.02 L267.24,319.72 L267.36,320.41 L267.48,321.11 L267.60,321.81 L267.71,322.50 L267.82,323.20 L267.94,323.90 L268.05,324.59 L268.16,325.29 L268.28,325.99 L268.39,326.69 L268.51,327.38 L268.63,328.08 L268.76,328.77 L268.89,329.46 L269.02,330.16 L269.15,330.85 L269.30,331.54 L269.44,332.22 L269.60,332.91 L269.76,333.59 L269.93,334.28 L270.10,334.95 L270.29,335.63 L270.48,336.31 L270.69,336.98 L270.90,337.64 L271.13,338.31 L271.36,338.97 L271.61,339.63 L271.87,340.28 L272.14,340.93 L272.43,341.58 L272.73,342.22 L273.04,342.86 L273.37,343.50 L273.72,344.13 L274.08,344.75 L274.46,345.37 L274.85,345.98 L275.26,346.59 L275.69,347.19 L276.13,347.75 L276.59,348.23 L277.04,348.59 L277.49,348.81 L277.94,348.86 L278.38,348.72 L278.82,348.44 L279.24,348.02 L279.65,347.50 L280.06,346.89 L280.45,346.22 L280.83,345.51 L281.19,344.78 L281.55,344.05 L281.88,343.32 L282.21,342.60 L282.52,341.88 L282.83,341.16 L283.12,340.45 L283.40,339.74 L283.67,339.03 L283.93,338.32 L284.18,337.62 L284.42,336.92 L284.66,336.22 L284.88,335.52 L285.10,334.83 L285.32,334.14 L285.52,333.46 L285.72,332.78 L285.92,332.10 L286.11,331.42 L286.30,330.75 L286.48,330.08 L286.66,329.41 L286.84,328.75 L287.01,328.09 L287.18,327.43 L287.36,326.78 L287.53,326.13 L287.70,325.48 L287.87,324.84 L288.04,324.20 L288.22,323.56 L288.39,322.93 L288.57,322.30 L288.75,321.67 L288.94,321.05 L289.13,320.42 L289.32,319.81 L289.51,319.19 L289.71,318.57 L289.91,317.95 L290.11,317.34 L290.32,316.72 L290.53,316.09 L290.75,315.47 L290.97,314.84 L291.19,314.21 L291.41,313.58 L291.64,312.93 L291.88,312.29 L292.12,311.63 L292.36,310.97 L292.61,310.30 L292.86,309.63 L293.11,308.94 L293.37,308.24 L293.63,307.54 L293.90,306.82 L294.17,306.09 L294.45,305.35 L294.73,304.60 L295.02,303.83 L295.31,303.04 L295.60,302.25 L295.90,301.44 L296.21,300.63 L296.53,299.82 L296.86,299.03 L297.21,298.25 L297.57,297.51 L297.96,296.81 L298.36,296.16 L298.80,295.57 L299.25,295.04 L299.74,294.58 L300.26,294.20 L300.80,293.89 L301.36,293.65 L301.94,293.48 L302.54,293.38 L303.15,293.34 L303.76,293.36 L304.39,293.43 L305.01,293.55 L305.63,293.73 L306.25,293.96 L306.85,294.22 L307.45,294.54 L308.03,294.88 L308.59,295.27 L309.13,295.69 L309.64,296.14 L310.13,296.61 L310.59,297.12 L311.03,297.64 L311.44,298.20 L311.83,298.77 L312.21,299.37 L312.56,299.98 L312.90,300.61 L313.22,301.26 L313.52,301.92 L313.81,302.60 L314.08,303.29 L314.35,303.98 L314.60,304.69 L314.84,305.40 L315.07,306.12 L315.30,306.85 L315.52,307.58 L315.74,308.30 L315.95,309.03 L316.15,309.76 L316.36,310.48 L316.56,311.20 L316.77,311.92 L316.97,312.63 L317.18,313.34 L317.38,314.04 L317.58,314.74 L317.78,315.44 L317.99,316.13 L318.19,316.82 L318.39,317.50 L318.59,318.19 L318.78,318.87 L318.98,319.54 L319.18,320.22 L319.37,320.89 L319.57,321.56 L319.76,322.23 L319.96,322.89 L320.15,323.56 L320.34,324.22 L320.53,324.88 L320.72,325.54 L320.91,326.19 L321.10,326.85 L321.29,327.51 L321.48,328.16 L321.66,328.81 L321.85,329.47 L322.03,330.12 L322.21,330.77 L322.39,331.42 L322.57,332.08 L322.75,332.73 L322.93,333.38 L323.11,334.04 L323.28,334.69 L323.46,335.34 L323.63,336.00 L323.80,336.66 L323.97,337.31 L324.14,337.97 L324.31,338.63 L324.48,339.30 L324.64,339.96 L324.81,340.63 L324.97,341.30 L325.13,341.97 L325.29,342.64 L325.45,343.31 L325.61,343.99 L325.77,344.67 L325.92,345.35 L326.08,346.04 L326.23,346.72 L326.38,347.41 L326.53,348.10 L326.68,348.79 L326.83,349.48 L326.98,350.18 L327.12,350.88 L327.27,351.57 L327.41,352.27 L327.56,352.97 L327.70,353.67 L327.85,354.37 L327.99,355.07 L328.13,355.77 L328.27,356.48 L328.41,357.18 L328.55,357.88 L328.70,358.59 L328.84,359.29 L328.98,359.99 L329.12,360.70 L329.26,361.40 L329.39,362.10 L329.53,362.81 L329.67,363.51 L329.81,364.21 L329.95,364.91 L330.09,365.61 L330.23,366.31 L330.37,367.01 L330.52,367.70 L330.66,368.40 L330.80,369.09 L330.94,369.78 L331.08,370.47 L331.23,371.16 L331.37,371.85 L331.51,372.53 L331.66,373.22 L331.80,373.90 L331.95,374.57 L332.10,375.25 L332.25,375.92 L332.40,376.59 L332.55,377.26 L332.70,377.93 L332.85,378.59 L333.00,379.25 L333.16,379.90 L333.31,380.56 L333.47,381.21 L333.63,381.85 L333.79,382.50 L333.95,383.14 L334.12,383.78 L334.28,384.42 L334.45,385.06 L334.63,385.70 L334.80,386.34 L334.98,386.98 L335.17,387.63 L335.36,388.27 L335.55,388.93 L335.75,389.58 L335.95,390.24 L336.16,390.91 L336.37,391.58 L336.59,392.26 L336.82,392.95 L337.05,393.64 L337.29,394.34 L337.54,395.06 L337.79,395.78 L338.06,396.51 L338.33,397.25 L338.60,398.01 L338.89,398.78 L339.19,399.56 L339.49,400.35 L339.81,401.15 L340.14,401.94 L340.49,402.68 L340.87,403.34 L341.28,403.90 L341.73,404.33 L342.22,404.61 L342.74,404.73 L343.29,404.71 L343.86,404.58 L344.43,404.35 L344.99,404.03 L345.54,403.65 L346.07,403.22 L346.56,402.76 L347.01,402.26 L347.44,401.74 L347.84,401.18 L348.21,400.61 L348.55,400.01 L348.87,399.38 L349.17,398.74 L349.45,398.09 L349.72,397.41 L349.96,396.73 L350.20,396.03 L350.42,395.32 L350.63,394.61 L350.84,393.89 L351.04,393.16 L351.23,392.44 L351.43,391.71 L351.62,390.99 L351.82,390.27 L352.02,389.56 L352.23,388.86 L352.44,388.16 L352.65,387.47 L352.87,386.79 L353.10,386.11 L353.32,385.44 L353.56,384.77 L353.79,384.11 L354.03,383.46 L354.27,382.81 L354.52,382.16 L354.76,381.51 L355.01,380.87 L355.26,380.23 L355.51,379.60 L355.76,378.96 L356.02,378.33 L356.27,377.70 L356.53,377.07 L356.78,376.44 L357.03,375.81 L357.29,375.17 L357.54,374.54 L357.79,373.91 L358.04,373.27 L358.29,372.64 L358.54,372.00 L358.78,371.35 L359.02,370.71 L359.26,370.06 L359.50,369.40 L359.73,368.74 L359.96,368.08 L360.19,367.41 L360.41,366.74 L360.62,366.06 L360.83,365.37 L361.05,364.68 L361.26,363.99 L361.47,363.30 L361.69,362.60 L361.92,361.92 L362.16,361.23 L362.41,360.55 L362.68,359.88 L362.96,359.22 L363.26,358.57 L363.59,357.94 L363.94,357.32 L364.32,356.72 L364.73,356.13 L365.17,355.57 L365.64,355.03 L366.16,354.51 L366.71,354.02 L367.29,353.56 L367.90,353.14 L368.54,352.78 L369.19,352.48 L369.86,352.24 L370.53,352.08 L371.20,352.00 L371.87,352.02 L372.53,352.13 L373.18,352.33 L373.82,352.61 L374.44,352.96 L375.05,353.37 L375.63,353.83 L376.20,354.33 L376.75,354.87 L377.27,355.43 L377.77,356.00 L378.23,356.58 L378.68,357.16 L379.09,357.74 L379.49,358.33 L379.87,358.93 L380.22,359.53 L380.56,360.13 L380.88,360.73 L381.19,361.34 L381.49,361.95 L381.78,362.57 L382.06,363.18 L382.33,363.80 L382.60,364.43 L382.86,365.05 L383.13,365.68 L383.39,366.30 L383.66,366.93 L383.93,367.57 L384.20,368.20 L384.48,368.84 L384.78,369.47 L385.08,370.11 L385.39,370.75 L385.72,371.39 L386.07,372.03 L386.44,372.67 L386.82,373.31 L387.23,373.95 L387.65,374.59 L388.11,375.22 L388.58,375.84 L389.07,376.43 L389.57,376.99 L390.09,377.51 L390.61,377.97 L391.15,378.38 L391.69,378.71 L392.24,378.96 L392.79,379.13 L393.34,379.19 L393.88,379.15 L394.42,378.99 L394.95,378.71 L395.48,378.30 L395.99,377.77 L396.48,377.14 L396.96,376.45 L397.43,375.72 L397.87,374.98 L398.28,374.24 L398.68,373.52 L399.05,372.82 L399.40,372.13 L399.74,371.46 L400.05,370.80 L400.35,370.16 L400.63,369.52 L400.90,368.89 L401.15,368.27 L401.39,367.66 L401.62,367.05 L401.85,366.44 L402.06,365.83 L402.27,365.22 L402.47,364.61 L402.67,364.00 L402.86,363.38 L403.05,362.76 L403.24,362.12 L403.44,361.48 L403.63,360.83 L403.83,360.17 L404.02,359.51 L404.22,358.84 L404.42,358.16 L404.63,357.48 L404.84,356.80 L405.05,356.11 L405.27,355.42 L405.49,354.74 L405.72,354.05 L405.95,353.36 L406.19,352.67 L406.44,351.99 L406.69,351.31 L406.95,350.64 L407.22,349.97 L407.49,349.30 L407.78,348.65 L408.07,348.00 L408.37,347.36 L408.68,346.72 L409.00,346.09 L409.33,345.47 L409.66,344.85 L410.00,344.24 L410.35,343.64 L410.71,343.04 L411.07,342.45 L411.44,341.87 L411.82,341.29 L412.20,340.71 L412.59,340.14 L412.99,339.58 L413.39,339.02 L413.80,338.46 L414.21,337.91 L414.64,337.37 L415.06,336.83 L415.49,336.29 L415.93,335.76 L416.37,335.23 L416.82,334.70 L417.27,334.18 L417.73,333.66 L418.19,333.15 L418.65,332.64 L419.12,332.13 L419.59,331.62 L420.07,331.12 L420.55,330.62 L421.03,330.12 L421.52,329.63 L422.01,329.14 L422.50,328.65 L423.00,328.16 L423.50,327.67 L424.00,327.18 L424.50,326.70 L425.01,326.22 L425.51,325.74 L426.02,325.25 L426.53,324.77 L427.04,324.30 L427.56,323.82 L428.07,323.34 L428.58,322.86 L429.10,322.38 L429.61,321.90 L430.13,321.42 L430.64,320.94 L431.15,320.46 L431.66,319.98 L432.18,319.50 L432.68,319.02 L433.19,318.53 L433.70,318.04 L434.20,317.56 L434.70,317.06 L435.19,316.57 L435.69,316.08 L436.18,315.58 L436.66,315.08 L437.15,314.57 L437.62,314.07 L438.10,313.56 L438.57,313.05 L439.03,312.53 L439.49,312.01 L439.94,311.48 L440.39,310.96 L440.83,310.42 L441.27,309.89 L441.70,309.34 L442.12,308.80 L442.53,308.25 L442.94,307.69 L443.34,307.13 L443.73,306.56 L444.12,305.99 L444.50,305.41 L444.88,304.83 L445.25,304.25 L445.61,303.66 L445.97,303.07 L446.33,302.47 L446.68,301.87 L447.02,301.27 L447.37,300.67 L447.71,300.06 L448.05,299.45 L448.38,298.83 L448.72,298.22 L449.05,297.60 L449.38,296.98 L449.71,296.36 L450.04,295.74 L450.37,295.12 L450.70,294.49 L451.03,293.87 L451.36,293.24 L451.69,292.62 L452.02,291.99 L452.36,291.37 L452.69,290.74 L453.03,290.11 L453.37,289.49 L453.72,288.86 L454.07,288.24 L454.42,287.62 L454.77,287.00 L455.13,286.38 L455.50,285.76 L455.87,285.14 L456.25,284.53 L456.63,283.92 L457.01,283.31 L457.41,282.70 L457.81,282.10 L458.21,281.50 L458.62,280.91 L459.04,280.32 L459.46,279.74 L459.89,279.16 L460.32,278.59 L460.76,278.03 L461.21,277.47 L461.66,276.92 L462.12,276.38 L462.58,275.84 L463.06,275.32 L463.54,274.80 L464.02,274.30 L464.51,273.80 L465.01,273.32 L465.52,272.84 L466.03,272.38 L466.55,271.92 L467.07,271.48 L467.61,271.05 L468.15,270.64 L468.70,270.24 L469.25,269.85 L469.81,269.47 L470.38,269.11 L470.96,268.77 L471.54,268.44 L472.13,268.12 L472.73,267.83 L473.34,267.54 L473.96,267.28 L474.58,267.03 L475.21,266.80 L475.85,266.59 L476.49,266.40 L477.15,266.22 L477.81,266.07 L478.48,265.93 L479.16,265.82 L479.85,265.72 L480.54,265.65 L481.24,265.60 L481.95,265.56 L482.66,265.55 L483.37,265.55 L484.09,265.57 L484.80,265.61 L485.52,265.67 L486.24,265.75 L486.96,265.85 L487.67,265.96 L488.39,266.09 L489.10,266.24 L489.80,266.41 L490.50,266.59 L491.20,266.79 L491.88,267.01 L492.56,267.24 L493.24,267.49 L493.90,267.75 L494.55,268.03 L495.19,268.33 L495.82,268.64 L496.44,268.97 L497.04,269.31 L497.63,269.67 L498.20,270.04 L498.76,270.42 L499.31,270.82 L499.84,271.23 L500.36,271.65 L500.87,272.09 L501.36,272.54 L501.84,273.00 L502.31,273.47 L502.77,273.96 L503.22,274.45 L503.65,274.96 L504.08,275.48 L504.49,276.00 L504.89,276.54 L505.29,277.09 L505.67,277.64 L506.05,278.20 L506.41,278.78 L506.77,279.36 L507.12,279.94 L507.46,280.54 L507.79,281.14 L508.11,281.75 L508.43,282.37 L508.74,282.99 L509.04,283.62 L509.34,284.25 L509.63,284.89 L509.92,285.53 L510.20,286.18 L510.47,286.83 L510.74,287.48 L511.00,288.14 L511.26,288.81 L511.52,289.47 L511.77,290.14 L512.02,290.81 L512.26,291.48 L512.50,292.15 L512.74,292.83 L512.98,293.50 L513.21,294.18 L513.45,294.86 L513.68,295.53 L513.91,296.21 L514.14,296.88 L514.37,297.56 L514.59,298.23 L514.82,298.91 L515.04,299.58 L515.27,300.25 L515.49,300.92 L515.71,301.60 L515.94,302.27 L516.16,302.94 L516.38,303.61 L516.60,304.28 L516.82,304.94 L517.04,305.61 L517.26,306.28 L517.48,306.95 L517.70,307.61 L517.92,308.28 L518.14,308.94 L518.36,309.61 L518.58,310.27 L518.80,310.94 L519.02,311.60 L519.24,312.26 L519.46,312.92 L519.68,313.58 L519.90,314.24 L520.12,314.90 L520.34,315.56 L520.57,316.22 L520.79,316.88 L521.01,317.53 L521.24,318.19 L521.46,318.85 L521.69,319.50 L521.92,320.16 L522.15,320.81 L522.38,321.46 L522.61,322.11 L522.84,322.77 L523.07,323.42 L523.31,324.07 L523.55,324.72 L523.78,325.36 L524.02,326.01 L524.26,326.66 L524.50,327.31 L524.74,327.96 L524.98,328.61 L525.22,329.25 L525.47,329.90 L525.71,330.55 L525.95,331.20 L526.20,331.85 L526.44,332.50 L526.68,333.16 L526.93,333.81 L527.17,334.46 L527.41,335.12 L527.66,335.77 L527.90,336.43 L528.14,337.09 L528.38,337.75 L528.62,338.41 L528.87,339.08 L529.11,339.74 L529.34,340.41 L529.58,341.08 L529.82,341.75 L530.05,342.43 L530.29,343.10 L530.52,343.78 L530.75,344.46 L530.98,345.15 L531.21,345.84 L531.44,346.53 L531.67,347.22 L531.89,347.92 L532.11,348.62 L532.33,349.32 L532.56,350.02 L532.79,350.72 L533.02,351.42 L533.27,352.11 L533.53,352.79 L533.81,353.46 L534.10,354.12 L534.42,354.76 L534.76,355.39 L535.13,356.00 L535.52,356.59 L535.95,357.16 L536.41,357.70 L536.90,358.17 L537.42,358.54 L537.96,358.78 L538.52,358.87 L539.11,358.78 L539.69,358.56 L540.26,358.23 L540.82,357.80 L541.34,357.31 L541.83,356.77 L542.27,356.20 L542.68,355.59 L543.05,354.96 L543.39,354.30 L543.71,353.62 L544.00,352.92 L544.26,352.21 L544.52,351.48 L544.75,350.75 L544.98,350.02 L545.20,349.29 L545.41,348.56 L545.62,347.84 L545.84,347.12 L546.05,346.42 L546.26,345.73 L546.48,345.05 L546.70,344.37 L546.92,343.70 L547.14,343.04 L547.36,342.38 L547.59,341.73 L547.81,341.09 L548.04,340.44 L548.27,339.80 L548.50,339.17 L548.74,338.53 L548.97,337.89 L549.21,337.26 L549.45,336.62 L549.69,335.99 L549.93,335.35 L550.18,334.71 L550.43,334.07 L550.68,333.42 L550.93,332.77 L551.18,332.13 L551.44,331.48 L551.69,330.82 L551.95,330.17 L552.21,329.52 L552.46,328.86 L552.72,328.20 L552.98,327.55 L553.24,326.89 L553.49,326.23 L553.75,325.57 L554.01,324.91 L554.27,324.25 L554.52,323.59 L554.78,322.93 L555.03,322.27 L555.28,321.61 L555.53,320.95 L555.78,320.29 L556.02,319.63 L556.27,318.97 L556.51,318.32 L556.75,317.66 L556.99,317.00 L557.22,316.35 L557.45,315.70 L557.68,315.05 L557.90,314.40 L558.12,313.75 L558.34,313.10 L558.56,312.46 L558.78,311.82 L559.01,311.18 L559.25,310.54 L559.51,309.91 L559.80,309.27 L560.11,308.64 L560.45,308.02 L560.83,307.39 L561.24,306.77 L561.70,306.16 L562.21,305.55 L562.77,304.95 L563.36,304.38 L563.96,303.85 L564.59,303.37 L565.21,302.96 L565.83,302.64 L566.44,302.39 L567.04,302.22 L567.64,302.12 L568.22,302.09 L568.80,302.13 L569.37,302.24 L569.92,302.40 L570.47,302.62 L571.01,302.90 L571.54,303.22 L572.07,303.60 L572.58,304.02 L573.08,304.48 L573.57,304.98 L574.05,305.52 L574.52,306.09 L574.97,306.69 L575.42,307.31 L575.86,307.96 L576.28,308.63 L576.69,309.31 L577.10,310.01 L577.48,310.72 L577.86,311.44 L578.23,312.16 L578.58,312.89 L578.92,313.61 L579.24,314.32 L579.56,315.03 L579.86,315.73 L580.15,316.42 L580.42,317.11 L580.69,317.78 L580.95,318.45 L581.19,319.11 L581.43,319.77 L581.66,320.42 L581.88,321.06 L582.10,321.70 L582.30,322.34 L582.51,322.97 L582.70,323.60 L582.90,324.22 L583.08,324.85 L583.27,325.47 L583.45,326.08 L583.63,326.70 L583.81,327.31 L583.99,327.93 L584.16,328.54 L584.34,329.15 L584.52,329.77 L584.70,330.38 L584.88,331.00 L585.06,331.62 L585.25,332.24 L585.44,332.86 L585.64,333.49 L585.84,334.12 L586.05,334.75 L586.26,335.39 L586.49,336.03 L586.71,336.68 L586.95,337.33 L587.20,337.99 L587.45,338.66 L587.72,339.33 L588.00,340.01 L588.28,340.70 L588.58,341.40 L588.90,342.10 L589.22,342.81 L589.56,343.54 L589.92,344.27 L590.29,345.01 L590.67,345.76 L591.07,346.50 L591.48,347.22 L591.91,347.92 L592.34,348.59 L592.79,349.21 L593.25,349.77 L593.71,350.27 L594.19,350.69 L594.67,351.03 L595.16,351.28 L595.66,351.41 L596.16,351.44 L596.66,351.35 L597.17,351.14 L597.68,350.84 L598.19,350.44 L598.69,349.97 L599.19,349.43 L599.68,348.83 L600.16,348.18 L600.63,347.49 L601.08,346.78 L601.52,346.06 L601.95,345.33 L602.35,344.60 L602.73,343.89 L603.10,343.19 L603.44,342.51 L603.77,341.84 L604.08,341.18 L604.38,340.53 L604.66,339.89 L604.93,339.25 L605.19,338.63 L605.44,338.01 L605.68,337.39 L605.92,336.78 L606.15,336.17 L606.37,335.56 L606.59,334.96 L606.81,334.35 L607.03,333.75 L607.25,333.14 L607.47,332.53 L607.69,331.91 L607.92,331.29 L608.15,330.66 L608.39,330.03 L608.63,329.39 L608.89,328.74 L609.15,328.09 L609.42,327.43 L609.70,326.78 L609.99,326.12 L610.29,325.47 L610.60,324.81 L610.92,324.16 L611.25,323.51 L611.59,322.87 L611.95,322.23 L612.32,321.60 L612.70,320.99 L613.09,320.38 L613.50,319.78 L613.92,319.20 L614.35,318.63 L614.81,318.07 L615.27,317.53 L615.75,317.01 L616.25,316.51 L616.77,316.03 L617.30,315.57 L617.85,315.13 L618.41,314.72 L618.99,314.34 L619.58,314.02 L620.18,313.76 L620.79,313.57 L621.40,313.47 L622.01,313.46 L622.62,313.57 L623.22,313.79 L623.81,314.15 L624.40,314.61 L624.97,315.16 L625.51,315.77 L626.04,316.42 L626.53,317.08 L627.00,317.74 L627.44,318.39 L627.85,319.04 L628.24,319.68 L628.61,320.32 L628.96,320.96 L629.29,321.59 L629.60,322.22 L629.89,322.85 L630.18,323.48 L630.45,324.11 L630.71,324.74 L630.97,325.36 L631.22,325.99 L631.46,326.62 L631.71,327.24 L631.95,327.87 L632.19,328.50 L632.43,329.13 L632.67,329.76 L632.90,330.39 L633.14,331.03 L633.37,331.66 L633.60,332.30 L633.83,332.93 L634.06,333.57 L634.29,334.21 L634.51,334.86 L634.73,335.50 L634.96,336.15 L635.18,336.80 L635.39,337.45 L635.61,338.10 L635.83,338.76 L636.04,339.41 L636.26,340.07 L636.47,340.74 L636.68,341.40 L636.89,342.07 L637.09,342.74 L637.30,343.41 L637.50,344.09 L637.70,344.76 L637.91,345.44 L638.11,346.12 L638.30,346.80 L638.50,347.48 L638.70,348.17 L638.89,348.85 L639.09,349.54 L639.28,350.23 L639.47,350.92 L639.66,351.61 L639.84,352.30 L640.03,352.99 L640.22,353.69 L640.40,354.38 L640.58,355.07 L640.77,355.77 L640.95,356.47 L641.13,357.16 L641.30,357.86 L641.48,358.56 L641.66,359.25 L641.83,359.95 L642.01,360.65 L642.18,361.34 L642.35,362.04 L642.52,362.74 L642.69,363.44 L642.86,364.13 L643.02,364.83 L643.19,365.52 L643.35,366.22 L643.52,366.91 L643.68,367.61 L643.84,368.30 L644.00,368.99 L644.16,369.68 L644.32,370.37 L644.48,371.06 L644.64,371.75 L644.79,372.43 L644.95,373.12 L645.10,373.80 L645.25,374.48 L645.41,375.16 L645.56,375.84 L645.71,376.52 L645.86,377.19 L646.01,377.86 L646.15,378.53 L646.30,379.20 L646.45,379.87 L646.59,380.53 L646.74,381.20 L646.88,381.86 L647.03,382.52 L647.17,383.18 L647.32,383.84 L647.46,384.50 L647.61,385.16 L647.75,385.81 L647.90,386.47 L648.05,387.12 L648.19,387.78 L648.34,388.43 L648.49,389.09 L648.63,389.74 L648.78,390.39 L648.93,391.05 L649.08,391.70 L649.24,392.35 L649.39,393.01 L649.54,393.66 L649.70,394.32 L649.86,394.97 L650.02,395.63 L650.18,396.29 L650.34,396.95 L650.50,397.61 L650.67,398.27 L650.84,398.93 L651.01,399.59 L651.18,400.26 L651.35,400.92 L651.53,401.59 L651.71,402.26 L651.89,402.93 L652.07,403.61 L652.26,404.28 L652.45,404.96 L652.64,405.64 L652.84,406.32 L653.03,407.01 L653.24,407.69 L653.44,408.38 L653.65,409.08 L653.86,409.77 L654.07,410.47 L654.29,411.17 L654.51,411.88 L654.74,412.58 L654.97,413.30 L655.20,414.01 L655.44,414.73 L655.68,415.45 L655.93,416.18 L656.18,416.91 L656.43,417.64 L656.69,418.38 L656.95,419.12 L657.22,419.87 L657.49,420.62 L657.77,421.37 L658.05,422.13 L658.34,422.90 L658.63,423.67 L658.93,424.44 L659.23,425.22 L659.54,425.99 L659.86,426.75 L660.18,427.49 L660.50,428.20 L660.84,428.87 L661.18,429.50 L661.53,430.07 L661.88,430.58 L662.24,431.03 L662.62,431.40 L663.00,431.68 L663.38,431.87 L663.78,431.96 L664.19,431.93 L664.60,431.80 L665.02,431.57 L665.45,431.25 L665.88,430.84 L666.31,430.36 L666.74,429.81 L667.17,429.21 L667.60,428.55 L668.02,427.85 L668.44,427.12 L668.84,426.37 L669.24,425.60 L669.63,424.82 L670.00,424.04 L670.36,423.27 L670.70,422.52 L671.03,421.78 L671.34,421.06 L671.64,420.35 L671.93,419.65 L672.21,418.96 L672.47,418.29 L672.73,417.62 L672.98,416.97 L673.23,416.32 L673.47,415.67 L673.70,415.04 L673.93,414.41 L674.16,413.78 L674.38,413.16 L674.61,412.54 L674.83,411.92 L675.06,411.30 L675.29,410.69 L675.52,410.07 L675.76,409.45 L676.00,408.83 L676.25,408.20 L676.50,407.57 L676.76,406.94 L677.03,406.31 L677.29,405.67 L677.57,405.03 L677.84,404.39 L678.12,403.75 L678.40,403.11 L678.68,402.46 L678.96,401.81 L679.24,401.16 L679.53,400.51 L679.81,399.86 L680.09,399.21 L680.37,398.56 L680.65,397.90 L680.92,397.25 L681.19,396.59 L681.46,395.94 L681.73,395.29 L681.99,394.63 L682.25,393.98 L682.50,393.32 L682.76,392.67 L683.01,392.02 L683.26,391.37 L683.52,390.72 L683.77,390.07 L684.03,389.42 L684.29,388.78 L684.55,388.13 L684.82,387.49 L685.09,386.85 L685.36,386.21 L685.64,385.57 L685.93,384.94 L686.22,384.31 L686.52,383.68 L686.83,383.05 L687.14,382.43 L687.47,381.81 L687.80,381.19 L688.15,380.57 L688.50,379.96 L688.87,379.35 L689.25,378.75 L689.64,378.15 L690.05,377.55 L690.47,376.96 L690.90,376.37 L691.35,375.79 L691.82,375.21 L692.30,374.64 L692.80,374.08 L693.31,373.55 L693.84,373.07 L694.38,372.64 L694.94,372.28 L695.51,372.01 L696.09,371.83 L696.68,371.77 L697.28,371.81 L697.89,371.95 L698.49,372.18 L699.09,372.49 L699.69,372.86 L700.27,373.30 L700.84,373.78 L701.39,374.31 L701.91,374.87 L702.41,375.45 L702.89,376.05 L703.34,376.66 L703.77,377.30 L704.18,377.95 L704.56,378.62 L704.93,379.29 L705.28,379.98 L705.61,380.67 L705.93,381.37 L706.23,382.08 L706.53,382.78 L706.80,383.49 L707.07,384.19 L707.33,384.90 L707.58,385.59 L707.83,386.28 L708.06,386.96 L708.30,387.64 L708.52,388.31 L708.74,388.97 L708.96,389.62 L709.17,390.28 L709.37,390.92 L709.57,391.56 L709.77,392.20 L709.96,392.83 L710.14,393.45 L710.33,394.08 L710.51,394.70 L710.68,395.32 L710.86,395.93 L711.03,396.55 L711.19,397.16 L711.36,397.77 L711.52,398.39 L711.68,399.00 L711.84,399.61 L712.00,400.22 L712.16,400.83 L712.31,401.44 L712.46,402.06 L712.62,402.67 L712.77,403.29 L712.92,403.91 L713.08,404.54 L713.23,405.17 L713.38,405.80 L713.54,406.43 L713.69,407.08 L713.85,407.72 L714.01,408.37 L714.16,409.03 L714.33,409.69 L714.49,410.36 L714.65,411.03 L714.82,411.72 L714.99,412.41 L715.16,413.11 L715.34,413.81 L715.52,414.53 L715.70,415.25 L715.89,415.99 L716.08,416.73 L716.28,417.49 L716.48,418.25 L716.68,419.03 L716.89,419.81 L717.11,420.61 L717.33,421.42 L717.55,422.25 L717.78,423.08 L718.02,423.93 L718.27,424.79 L718.52,425.66 L718.77,426.54 L719.03,427.41 L719.30,428.29 L719.57,429.15 L719.85,430.01 L720.13,430.86 L720.42,431.69 L720.71,432.50 L721.01,433.29 L721.31,434.05 L721.62,434.78 L721.93,435.48 L722.25,436.14 L722.57,436.76 L722.89,437.34 L723.22,437.87 L723.55,438.35 L723.88,438.77 L724.22,439.14 L724.56,439.45 L724.90,439.69 L725.25,439.86 L725.60,439.97 L725.96,440.00 L726.31,439.95 L726.67,439.83 L727.03,439.63 L727.39,439.37 L727.75,439.04 L728.12,438.66 L728.48,438.21 L728.84,437.72 L729.21,437.18 L729.57,436.59 L729.93,435.96 L730.29,435.30 L730.65,434.60 L731.00,433.87 L731.35,433.12 L731.70,432.34 L732.05,431.55 L732.39,430.74 L732.73,429.93 L733.06,429.10 L733.39,428.28 L733.71,427.45 L734.03,426.64 L734.34,425.83 L734.64,425.03 L734.94,424.25 L735.23,423.49 L735.51,422.75 L735.79,422.04 L736.05,421.35 L736.32,420.68 L736.58,420.04 L736.83,419.40 L737.09,418.79 L737.34,418.18 L737.60,417.59 L737.86,417.01 L738.12,416.43 L738.38,415.86 L738.65,415.29 L738.93,414.72 L739.21,414.16 L739.51,413.59 L739.81,413.01 L740.12,412.43 L740.45,411.85 L740.79,411.25 L741.14,410.64 L741.51,410.01 L741.89,409.38 L742.29,408.74 L742.70,408.09 L743.12,407.45 L743.56,406.80 L744.01,406.15 L744.47,405.51 L744.95,404.88 L745.43,404.25 L745.93,403.64 L746.44,403.05 L746.95,402.48 L747.48,401.92 L748.01,401.39 L748.56,400.88 L749.11,400.41 L749.67,399.96 L750.24,399.55 L750.81,399.17 L751.39,398.84 L751.98,398.54 L752.57,398.29 L753.17,398.08 L753.77,397.93 L754.38,397.82 L754.99,397.77 L755.61,397.78 L756.23,397.85 L756.85,397.98 L757.47,398.17 L758.10,398.43 L758.72,398.76 L759.35,399.16 L759.96,399.60 L760.57,400.08 L761.15,400.59 L761.72,401.11 L762.25,401.65 L762.76,402.19 L763.25,402.74 L763.72,403.29 L764.17,403.85 L764.61,404.41 L765.03,404.98 L765.44,405.55 L765.83,406.12 L766.22,406.69 L766.60,407.27 L766.98,407.84 L767.35,408.41 L767.72,408.99 L768.10,409.56 L768.48,410.12 L768.86,410.69 L769.25,411.24 L769.66,411.80 L770.07,412.34 L770.51,412.88 L770.96,413.42 L771.43,413.94 L771.93,414.45 L772.46,414.96 L773.01,415.45 L773.59,415.93 L774.19,416.38 L774.80,416.80 L775.44,417.17 L776.08,417.50 L776.73,417.78 L777.38,417.99 L778.03,418.13 L778.67,418.20 L779.31,418.18 L779.94,418.07 L780.55,417.89 L781.15,417.64 L781.74,417.32 L782.32,416.95 L782.89,416.53 L783.44,416.07 L783.98,415.59 L784.51,415.08 L785.03,414.55 L785.54,414.01 L786.03,413.47 L786.51,412.93 L786.98,412.38 L787.44,411.82 L787.88,411.26 L788.32,410.70 L788.74,410.12 L789.16,409.55 L789.56,408.97 L789.96,408.39 L790.34,407.80 L790.72,407.21 L791.09,406.61 L791.45,406.01 L791.80,405.41 L792.15,404.81 L792.49,404.20 L792.82,403.58 L793.14,402.97 L793.46,402.35 L793.77,401.73 L794.08,401.11 L794.38,400.48 L794.68,399.85 L794.97,399.22 L795.26,398.59 L795.54,397.95 L795.82,397.32 L796.10,396.68 L796.38,396.04 L796.65,395.40 L796.92,394.75 L797.19,394.11 L797.45,393.46 L797.72,392.82 L797.98,392.17 L798.25,391.53 L798.51,390.88 L798.77,390.23 L799.04,389.58 L799.30,388.93 L799.57,388.29 L799.83,387.64 L800.10,386.99 L800.37,386.34 L800.65,385.70 L800.92,385.05 L801.20,384.41 L801.48,383.76 L801.77,383.12 L802.06,382.48 L802.35,381.84 L802.65,381.20 L802.95,380.57 L803.26,379.93 L803.57,379.30 L803.89,378.67 L804.21,378.05 L804.54,377.43 L804.87,376.81 L805.21,376.19 L805.56,375.58 L805.91,374.97 L806.27,374.37 L806.64,373.77 L807.01,373.17 L807.40,372.58 L807.78,372.00 L808.18,371.42 L808.59,370.85 L809.00,370.28 L809.43,369.73 L809.87,369.19 L810.33,368.67 L810.80,368.16 L811.29,367.67 L811.79,367.20 L812.31,366.75 L812.86,366.32 L813.42,365.93 L814.01,365.55 L814.62,365.21 L815.25,364.90 L815.91,364.62 L816.58,364.38 L817.27,364.17 L817.98,364.01 L818.68,363.89 L819.39,363.82 L820.10,363.79 L820.80,363.81 L821.50,363.87 L822.20,363.95 L822.90,364.06 L823.59,364.18 L824.28,364.30 L824.97,364.43 L825.66,364.55 L826.35,364.65 L827.03,364.73 L827.71,364.79 L828.39,364.83 L829.07,364.86 L829.75,364.86 L830.44,364.84 L831.12,364.80 L831.80,364.74 L832.48,364.65 L833.16,364.55 L833.85,364.42 L834.54,364.27 L835.23,364.10 L835.92,363.91 L836.61,363.70 L837.31,363.49 L838.00,363.26 L838.70,363.03 L839.39,362.80 L840.09,362.56 L840.78,362.32 L841.47,362.10 L842.16,361.87 L842.85,361.66 L843.54,361.46 L844.23,361.28 L844.91,361.12 L845.59,360.98 L846.27,360.86 L846.94,360.77 L847.61,360.71 L848.28,360.69 L848.94,360.70 L849.59,360.75 L850.24,360.83 L850.89,360.95 L851.53,361.10 L852.17,361.29 L852.80,361.51 L853.43,361.75 L854.05,362.02 L854.66,362.32 L855.28,362.65 L855.88,363.00 L856.48,363.36 L857.08,363.75 L857.67,364.16 L858.26,364.59 L858.84,365.03 L859.41,365.49 L859.98,365.96 L860.55,366.44 L861.11,366.93 L861.66,367.43 L862.21,367.93 L862.76,368.44 L863.30,368.96 L863.84,369.47 L864.38,369.98 L864.92,370.49 L865.46,371.00 L866.00,371.49 L866.54,371.98 L867.08,372.46 L867.62,372.93 L868.16,373.39 L868.71,373.82 L869.26,374.24 L869.82,374.64 L870.38,375.02 L870.94,375.38 L871.51,375.71 L872.09,376.02 L872.68,376.29 L873.27,376.54 L873.87,376.75 L874.48,376.93 L875.10,377.07 L875.73,377.17 L876.37,377.24 L877.02,377.27 L877.68,377.26 L878.35,377.23 L879.02,377.17 L879.71,377.08 L880.40,376.97 L881.09,376.85 L881.79,376.71 L882.49,376.55 L883.20,376.39 L883.91,376.22 L884.62,376.05 L885.33,375.88 L886.05,375.72 L886.76,375.55 L887.47,375.40 L888.18,375.26 L888.89,375.14 L889.59,375.03 L890.29,374.94 L890.99,374.88 L891.68,374.85 L892.36,374.84 L893.03,374.87 L893.70,374.94 L894.36,375.05 L895.01,375.19 L895.66,375.39 L896.29,375.62 L896.91,375.90 L897.52,376.21 L898.12,376.55 L898.72,376.93 L899.30,377.34 L899.88,377.78 L900.44,378.24 L901.00,378.73 L901.54,379.23 L902.08,379.76 L902.61,380.29 L903.13,380.84 L903.64,381.40 L904.14,381.97 L904.64,382.55 L905.12,383.12 L905.60,383.70 L906.06,384.28 L906.52,384.86 L906.97,385.43 L907.42,386.01 L907.86,386.58 L908.29,387.16 L908.71,387.74 L909.13,388.31 L909.54,388.88 L909.94,389.46 L910.34,390.03 L910.74,390.61 L911.13,391.18 L911.51,391.75 L911.89,392.33 L912.27,392.90 L912.64,393.47 L913.01,394.05 L913.38,394.62 L913.75,395.19 L914.11,395.77 L914.47,396.34 L914.83,396.92 L915.18,397.49 L915.54,398.06 L915.89,398.64 L916.25,399.21 L916.60,399.79 L916.96,400.36 L917.31,400.94 L917.67,401.51 L918.02,402.09 L918.38,402.67 L918.74,403.25 L919.10,403.82 L919.46,404.40 L919.83,404.98 L920.20,405.56 L920.57,406.14 L920.94,406.72 L921.32,407.30 L921.70,407.89 L922.09,408.47 L922.48,409.05 L922.87,409.64 L923.27,410.22 L923.67,410.81 L924.07,411.39 L924.48,411.97 L924.89,412.56 L925.30,413.14 L925.71,413.73 L926.13,414.31 L926.54,414.89 L926.96,415.47 L927.39,416.06 L927.81,416.64 L928.23,417.21 L928.65,417.79 L929.08,418.37 L929.51,418.94 L929.93,419.52 L930.36,420.09 L930.78,420.66 L931.21,421.23 L931.63,421.80 L932.06,422.36 L932.48,422.92 L932.91,423.48 L933.33,424.04 L933.75,424.59 L934.17,425.15 L934.58,425.70 L935.00,426.24 L935.41,426.79 L935.82,427.33 L936.23,427.86 L936.63,428.40 L937.03,428.93" fill="none" stroke="#a8123c" stroke-width="2" stroke-linejoin="round"/>
</g>
<rect x="127" y="15" width="1" height="413" fill="#000"/>
<rect x="46" y="304" width="897" height="1" fill="#000"/>
<rect x="43.5" y="11.5" width="903" height="415" rx="3.5" fill="none" stroke="#dcdcdc" stroke-width="1"/>
<rect x="44.5" y="12.5" width="901" height="413" rx="2.5" fill="none" stroke="#c8c8c8" stroke-width="1"/>
<rect x="45.5" y="13.5" width="899" height="411" rx="1.5" fill="none" stroke="#b8b8b8" stroke-width="1"/>
<rect x="46.5" y="14.5" width="897" height="409" rx="0.0" fill="none" stroke="#a9a9a9" stroke-width="1"/>
<rect x="946" y="15" width="1" height="408" fill="#e6e6e6"/>
<rect x="47" y="426" width="896" height="1" fill="#e6e6e6"/>
<rect x="945" y="15" width="1" height="408" fill="#d0d0d0"/>
<rect x="47" y="425" width="896" height="1" fill="#d0d0d0"/>
<rect x="944" y="15" width="1" height="408" fill="#bebebe"/>
<rect x="47" y="424" width="896" height="1" fill="#bebebe"/>
<rect x="943" y="15" width="1" height="408" fill="#a8a8a8"/>
<rect x="47" y="423" width="896" height="1" fill="#a8a8a8"/>
<rect x="127" y="423" width="1" height="5" fill="#000"/>
<text letter-spacing="0.4" x="42.3" y="49.6" text-anchor="end" font-size="12" fill="#000" font-weight="normal">95</text>
<text letter-spacing="0.4" x="42.3" y="114.6" text-anchor="end" font-size="12" fill="#000" font-weight="normal">90</text>
<text letter-spacing="0.4" x="42.3" y="179.6" text-anchor="end" font-size="12" fill="#000" font-weight="normal">85</text>
<text letter-spacing="0.4" x="42.3" y="244.6" text-anchor="end" font-size="12" fill="#000" font-weight="normal">80</text>
<text letter-spacing="0.4" x="42.3" y="374.6" text-anchor="end" font-size="12" fill="#000" font-weight="normal">70</text>
<text letter-spacing="0.4" x="42.2" y="8.7" text-anchor="end" font-size="12" fill="#000" font-weight="normal">dB</text>
<text letter-spacing="0.4" x="49.0" y="440.3" text-anchor="middle" font-size="12" fill="#000" font-weight="normal">20</text>
<text letter-spacing="0.4" x="195.3" y="440.3" text-anchor="middle" font-size="12" fill="#000" font-weight="normal">40</text>
<text letter-spacing="0.4" x="242.1" y="440.3" text-anchor="middle" font-size="12" fill="#000" font-weight="normal">50</text>
<text letter-spacing="0.4" x="280.9" y="440.3" text-anchor="middle" font-size="12" fill="#000" font-weight="normal">60</text>
<text letter-spacing="0.4" x="312.9" y="440.3" text-anchor="middle" font-size="12" fill="#000" font-weight="normal">70</text>
<text letter-spacing="0.4" x="342.3" y="440.3" text-anchor="middle" font-size="12" fill="#000" font-weight="normal">80</text>
<text letter-spacing="0.4" x="366.4" y="440.3" text-anchor="middle" font-size="12" fill="#000" font-weight="normal">90</text>
<text letter-spacing="0.4" x="389.6" y="440.3" text-anchor="middle" font-size="12" fill="#000" font-weight="normal">100</text>
<text letter-spacing="0.4" x="535.8" y="440.3" text-anchor="middle" font-size="12" fill="#000" font-weight="normal">200</text>
<text letter-spacing="0.4" x="621.8" y="440.3" text-anchor="middle" font-size="12" fill="#000" font-weight="normal">300</text>
<text letter-spacing="0.4" x="682.3" y="440.3" text-anchor="middle" font-size="12" fill="#000" font-weight="normal">400</text>
<text letter-spacing="0.4" x="729.5" y="440.3" text-anchor="middle" font-size="12" fill="#000" font-weight="normal">500</text>
<text letter-spacing="0.4" x="767.7" y="440.3" text-anchor="middle" font-size="12" fill="#000" font-weight="normal">600</text>
<text letter-spacing="0.4" x="800.5" y="440.3" text-anchor="middle" font-size="12" fill="#000" font-weight="normal">700</text>
<text letter-spacing="0.4" x="828.5" y="440.3" text-anchor="middle" font-size="12" fill="#000" font-weight="normal">800</text>
<text letter-spacing="0.4" x="875.8" y="440.3" text-anchor="middle" font-size="12" fill="#000" font-weight="normal">1,0k</text>
<text letter-spacing="0.15" x="937.6" y="440.3" text-anchor="middle" font-size="12" fill="#000" font-weight="normal">1,38kHz</text>
<rect x="10.5" y="297.5" width="35" height="14" fill="#fff" stroke="#1a1a8c" stroke-width="1"/>
<text x="28.0" y="309.5" text-anchor="middle" font-size="12" fill="#2424b4" font-weight="normal">75,06</text>
<rect x="112.5" y="428.5" width="28" height="14" fill="#fff" stroke="#1a1a8c" stroke-width="1"/>
<text x="126.5" y="440.0" text-anchor="middle" font-size="12" fill="#2424b4" font-weight="normal">29,1</text>
<g stroke="#fff" stroke-width="3" stroke-linejoin="round" paint-order="stroke">
<text x="482.5" y="34.0" text-anchor="middle" font-size="21.2" fill="#787878" font-weight="bold">All SPL</text>
<text x="482.0" y="57.0" text-anchor="middle" font-size="21.7" fill="#787878" font-weight="bold">Зеленый - пустой шкаф, красный - с РГ 29Гц</text>
</g>
</svg>
</body></html>
